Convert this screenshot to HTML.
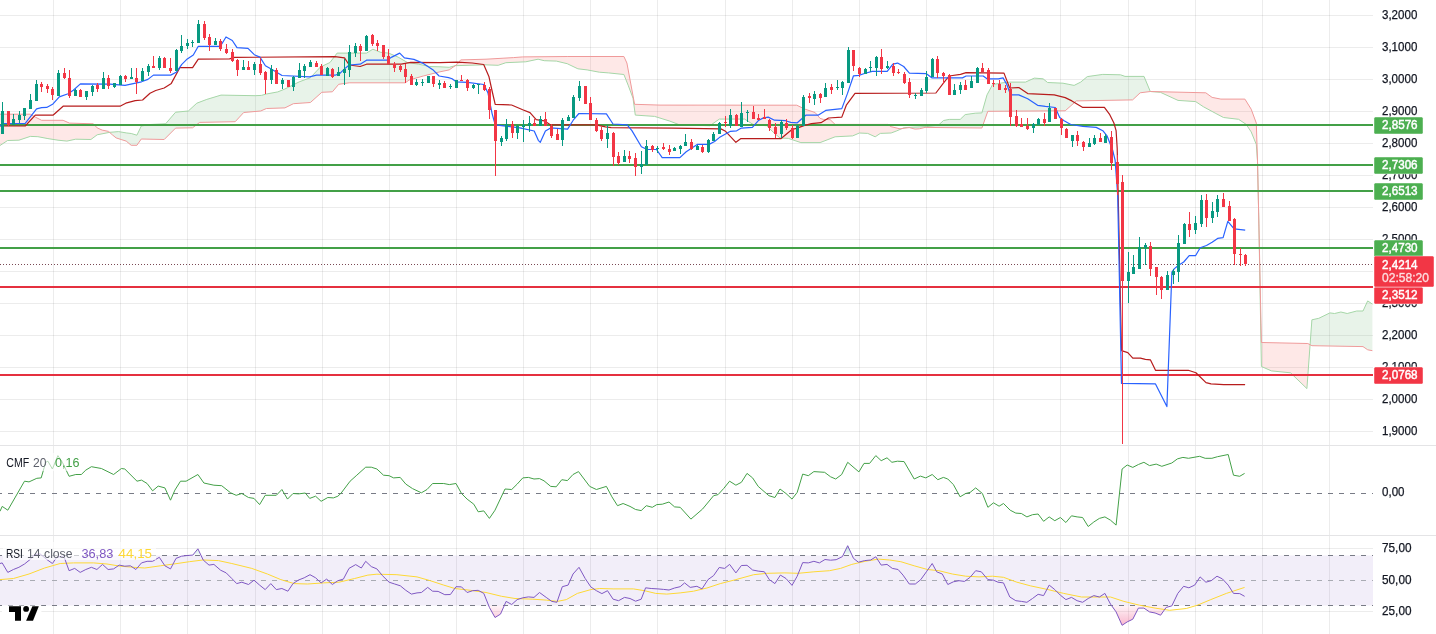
<!DOCTYPE html>
<html><head><meta charset="utf-8"><title>Chart</title>
<style>html,body{margin:0;padding:0;background:#fff;width:1436px;height:634px;overflow:hidden}</style>
</head><body>
<svg width="1436" height="634" viewBox="0 0 1436 634" style="display:block;will-change:transform"><path d="M0 15.5 H1373 M0 47.5 H1373 M0 79.5 H1373 M0 111.5 H1373 M0 143.5 H1373 M0 175.5 H1373 M0 207.5 H1373 M0 239.5 H1373 M0 271.5 H1373 M0 303.5 H1373 M0 335.5 H1373 M0 367.5 H1373 M0 399.5 H1373 M0 431.5 H1373 M0 548.5 H1373 M0 611.5 H1373" stroke="#000" stroke-opacity="0.075" stroke-width="1" fill="none"/>
<path d="M53.5 0 V634 M120.5 0 V634 M187.5 0 V634 M255.5 0 V634 M322.5 0 V634 M389.5 0 V634 M456.5 0 V634 M523.5 0 V634 M590.5 0 V634 M657.5 0 V634 M725.5 0 V634 M792.5 0 V634 M859.5 0 V634 M926.5 0 V634 M993.5 0 V634 M1060.5 0 V634 M1128.5 0 V634 M1195.5 0 V634 M1262.5 0 V634 M1329.5 0 V634" stroke="#000" stroke-opacity="0.075" stroke-width="1" fill="none"/>
<polygon points="0,145.5 0.5,145.17 1,144.84 1.5,144.51 2,144.18 2.5,143.86 3,143.53 3.5,143.2 4,142.87 4.5,142.54 5,142.21 5.5,141.88 6,141.55 6.5,141.22 7,140.89 7.5,140.57 7.6,140.5 8,140.49 8.5,140.48 9,140.46 9.5,140.45 10,140.44 10.5,140.42 11,140.41 11.5,140.4 12,140.38 12.5,140.37 13,140.36 13.5,140.34 14,140.33 14.5,140.32 15,140.3 15.5,140.29 16,140.28 16.5,140.26 17,140.25 17.5,140.24 18,140.22 18.5,140.21 18.9,140.2 19,140.17 19.5,140 20,139.83 20.5,139.67 21,139.5 21.5,139.33 22,139.17 22.5,139 23,138.83 23.5,138.67 24,138.5 24.5,138.33 25,138.17 25.5,138 26,137.83 26.5,137.67 27,137.5 27.5,137.33 28,137.17 28.5,137 29,136.83 29.5,136.67 30,136.5 30.3,136.4 30.5,136.41 31,136.43 31.5,136.45 32,136.47 32.5,136.49 33,136.51 33.5,136.53 34,136.55 34.5,136.57 35,136.59 35.3,136.6 35.5,136.61 36,136.62 36.5,136.64 37,136.66 37.5,136.68 37.9,136.7 38,136.72 38.5,136.81 39,136.91 39.5,137 40,137.1 40.5,137.19 41,137.29 41.5,137.38 41.6,137.4 42,137.48 42.5,137.57 43,137.67 43.5,137.76 44,137.86 44.5,137.95 45,138.05 45.5,138.14 46,138.24 46.5,138.33 47,138.43 47.5,138.52 47.9,138.6 48,138.62 48.5,138.7 49,138.77 49.5,138.85 50,138.93 50.5,139.01 51,139.09 51.5,139.17 52,139.25 52.5,139.33 53,139.41 53.5,139.49 54,139.57 54.5,139.65 55,139.72 55.5,139.8 56,139.88 56.5,139.96 57,140.04 57.5,140.12 58,140.2 58.5,140.25 59,140.3 59.5,140.35 60,140.4 60.5,140.45 61,140.5 61.5,140.55 62,140.6 62.5,140.66 63,140.71 63.1,140.72 63.5,140.76 64,140.81 64.5,140.86 65,140.91 65.5,140.96 66,141.01 66.5,141.06 66.9,141.1 67,141.08 67.5,140.97 68,140.86 68.5,140.75 69,140.65 69.4,140.56 69.5,140.54 70,140.43 70.5,140.32 71,140.21 71.5,140.11 72,140 72.5,139.89 73,139.78 73.5,139.67 74,139.57 74.5,139.46 75,139.35 75.5,139.24 75.7,139.2 76,139.21 76.5,139.22 77,139.23 77.5,139.24 78,139.25 78.5,139.26 79,139.27 79.5,139.27 80,139.28 80.5,139.29 81,139.3 81.5,139.31 82,139.32 82.5,139.33 83,139.34 83.5,139.35 84,139.36 84.5,139.37 85,139.38 85.5,139.39 86,139.4 86.5,139.41 87,139.42 87.5,139.43 88,139.44 88.5,139.45 89,139.46 89.5,139.47 90,139.48 90.5,139.49 90.9,139.5 91,139.43 91.5,139.05 92,138.68 92.5,138.31 93,137.93 93.4,137.63 93.5,137.56 94,137.19 94.5,136.81 95,136.44 95.5,136.07 96,135.7 96.5,135.32 97,134.95 97.2,134.8 97.5,134.74 98,134.64 98.5,134.54 99,134.44 99.5,134.34 100,134.24 100.5,134.15 101,134.05 101.5,133.95 102,133.85 102.2,133.81 102.5,133.75 103,133.65 103.5,133.55 104,133.45 104.5,133.35 105,133.25 105.5,133.15 106,133.05 106.5,132.95 107,132.86 107.5,132.76 108,132.66 108.5,132.56 109,132.46 109.5,132.36 109.56,132.35 109.56,132.35 109.5,132.29 109,131.85 108.5,131.4 108,131.3 107.5,131.19 107,131.09 106.5,130.99 106,130.88 105.5,130.78 105,130.68 104.5,130.57 104,130.47 103.5,130.37 103,130.27 102.5,130.16 102.2,130.1 102,130.01 101.5,129.79 101,129.57 100.5,129.35 100,129.13 99.5,128.91 99,128.69 98.5,128.47 98,128.25 97.5,128.03 97.2,127.9 97,127.68 96.5,127.14 96,126.61 95.5,126.07 95,125.53 94.5,124.99 94,124.45 93.5,123.91 93.4,123.8 93,123.79 92.5,123.77 92,123.76 91.5,123.74 91,123.73 90.9,123.73 90.5,123.72 90,123.7 89.5,123.69 89,123.67 88.5,123.66 88,123.64 87.5,123.63 87,123.61 86.5,123.6 86,123.58 85.5,123.57 85,123.55 84.5,123.54 84,123.53 83.5,123.51 83,123.5 82.5,123.48 82,123.47 81.5,123.45 81,123.44 80.5,123.42 80,123.41 79.5,123.39 79,123.38 78.5,123.37 78,123.35 77.5,123.34 77,123.32 76.5,123.31 76,123.29 75.7,123.28 75.5,123.28 75,123.26 74.5,123.25 74,123.23 73.5,123.22 73,123.2 72.5,123.19 72,123.18 71.5,123.16 71,123.15 70.5,123.13 70,123.12 69.5,123.1 69.4,123.1 69,122.92 68.5,122.7 68,122.48 67.5,122.26 67,122.03 66.9,121.99 66.5,121.81 66,121.59 65.5,121.37 65,121.14 64.5,120.92 64,120.7 63.5,120.48 63.1,120.3 63,120.3 62.5,120.3 62,120.3 61.5,120.3 61,120.3 60.5,120.3 60,120.3 59.5,120.3 59,120.3 58.5,120.3 58,120.3 57.5,120.3 57,120.3 56.5,120.3 56,120.3 55.5,120.3 55,120.3 54.5,120.3 54,120.3 53.5,120.3 53,120.3 52.5,120.3 52,120.3 51.5,120.3 51,120.3 50.5,120.3 50,120.3 49.5,120.3 49,120.3 48.5,120.3 48,120.3 47.9,120.3 47.5,120.3 47,120.3 46.5,120.3 46,120.3 45.5,120.3 45,120.3 44.5,120.3 44,120.3 43.5,120.3 43,120.3 42.5,120.3 42,120.3 41.6,120.3 41.5,120.25 41,120 40.5,119.74 40,119.49 39.5,119.23 39,118.98 38.5,118.73 38,118.47 37.9,118.42 37.5,118.22 37,117.96 36.5,117.71 36,117.46 35.5,117.2 35.3,117.1 35,116.93 34.5,116.64 34,116.35 33.5,116.06 33,115.77 32.5,115.48 32,115.19 31.5,114.9 31,114.61 30.5,114.32 30.3,114.2 30,114.2 29.5,114.2 29,114.2 28.5,114.2 28,114.2 27.5,114.2 27,114.2 26.5,114.2 26,114.2 25.5,114.2 25,114.2 24.5,114.2 24,114.2 23.5,114.2 23,114.2 22.5,114.2 22,114.2 21.5,114.2 21,114.2 20.5,114.2 20,114.2 19.5,114.2 19,114.2 18.9,114.2 18.5,114.2 18,114.2 17.5,114.2 17,114.2 16.5,114.2 16,114.2 15.5,114.2 15,114.2 14.5,114.2 14,114.2 13.5,114.2 13,114.2 12.5,114.2 12,114.2 11.5,114.2 11,114.2 10.5,114.2 10,114.2 9.5,114.2 9,114.2 8.5,114.2 8,114.2 7.6,114.2 7.5,114.2 7,114.2 6.5,114.2 6,114.2 5.5,114.2 5,114.2 4.5,114.2 4,114.2 3.5,114.2 3,114.2 2.5,114.2 2,114.2 1.5,114.2 1,114.2 0.5,114.2 0,114.2" fill="rgba(244,67,54,0.12)"/>
<polygon points="109.56,132.35 109.8,132.3 110,132.28 110.5,132.24 111,132.2 111.5,132.16 112,132.12 112.3,132.1 112.5,132.09 113,132.05 113.5,132.01 114,131.97 114.5,131.93 115,131.89 115.5,131.85 116,131.81 116.1,131.8 116.5,131.77 117,131.73 117.5,131.69 118,131.65 118.5,131.61 118.6,131.6 119,131.67 119.5,131.75 120,131.84 120.5,131.93 121,132.01 121.1,132.03 121.5,132.1 122,132.18 122.5,132.27 123,132.35 123.5,132.44 124,132.52 124.5,132.61 125,132.69 125.5,132.78 126,132.87 126.2,132.9 126.5,132.94 127,133 127.5,133.06 128,133.12 128.5,133.18 129,133.24 129.5,133.3 130,133.36 130.5,133.42 131,133.48 131.2,133.5 131.5,133.59 132,133.74 132.5,133.89 133,134.04 133.5,134.19 134,134.34 134.5,134.48 135,134.63 135.5,134.78 136,134.93 136.5,135.08 136.9,135.2 137,134.99 137.5,133.95 138,132.9 138.5,131.85 139,130.81 139.5,129.76 140,128.72 140.5,127.67 141,126.63 141.3,126 141.5,125.97 142,125.88 142.5,125.79 143,125.71 143.5,125.62 144,125.53 144.5,125.45 145,125.36 145.5,125.28 146,125.19 146.5,125.1 147,125.02 147.5,124.93 148,124.84 148.5,124.76 149,124.67 149.5,124.59 150,124.5 150.5,124.48 151,124.46 151.5,124.43 152,124.41 152.5,124.39 153,124.37 153.5,124.34 154,124.32 154.5,124.3 155,124.28 155.5,124.25 156,124.23 156.5,124.21 157,124.19 157.5,124.16 158,124.14 158.5,124.12 159,124.1 159.5,124.07 160,124.05 160.5,124.03 161,124.01 161.5,123.98 162,123.96 162.5,123.94 163,123.92 163.5,123.89 164,123.87 164.2,123.86 164.5,123.85 165,123.83 165.5,123.8 165.6,123.8 166,123.34 166.5,122.76 167,122.18 167.5,121.6 168,121.02 168.5,120.44 169,119.86 169.5,119.28 170,118.7 170.5,118.12 171,117.54 171.5,116.96 172,116.38 172.5,115.8 173,115.22 173.5,114.64 174,114.06 174.5,113.48 175,112.9 175.5,112.32 175.6,112.2 176,112.16 176.5,112.11 177,112.07 177.5,112.02 178,111.97 178.5,111.93 179,111.88 179.5,111.83 180,111.78 180.5,111.74 181,111.69 181.5,111.64 182,111.6 182.5,111.55 183,111.5 183.5,111.45 184,111.41 184.5,111.36 185,111.31 185.5,111.26 186,111.22 186.5,111.17 187,111.12 187.5,111.08 188,111.03 188.3,111 188.5,110.82 189,110.36 189.5,109.9 190,109.44 190.5,108.98 191,108.52 191.5,108.06 192,107.6 192.5,107.15 192.6,107.05 193,106.69 193.5,106.23 194,105.77 194.5,105.31 195,104.85 195.5,104.39 196,103.93 196.5,103.48 196.8,103.2 197,103.12 197.5,102.93 198,102.74 198.5,102.55 199,102.36 199.5,102.17 199.7,102.1 200,101.98 200.5,101.79 201,101.6 201.5,101.41 202,101.22 202.5,101.03 203,100.84 203.5,100.65 204,100.46 204.5,100.27 205,100.08 205.5,99.89 206,99.7 206.5,99.51 206.8,99.4 207,99.34 207.5,99.19 208,99.04 208.5,98.89 209,98.73 209.5,98.58 210,98.43 210.5,98.28 211,98.13 211.5,97.98 212,97.83 212.5,97.67 213,97.52 213.5,97.37 214,97.22 214.5,97.07 215,96.92 215.5,96.77 216,96.61 216.5,96.46 217,96.31 217.5,96.16 218,96.01 218.5,95.86 219,95.71 219.5,95.55 220,95.4 220.5,95.25 221,95.1 221.5,95.11 222,95.12 222.5,95.13 223,95.14 223.5,95.14 224,95.15 224.5,95.16 225,95.17 225.5,95.18 226,95.19 226.5,95.2 227,95.21 227.5,95.21 228,95.22 228.5,95.23 229,95.24 229.5,95.25 230,95.26 230.5,95.27 231,95.28 231.5,95.28 232,95.29 232.5,95.3 233,95.31 233.5,95.32 234,95.33 234.5,95.34 235,95.35 235.2,95.35 235.5,95.36 236,95.36 236.5,95.37 237,95.38 237.5,95.39 238,95.4 238.5,95.41 239,95.42 239.5,95.43 240,95.43 240.5,95.44 241,95.45 241.5,95.46 242,95.47 242.5,95.48 243,95.49 243.5,95.5 243.7,95.5 244,95.5 244.5,95.51 245,95.52 245.5,95.53 246,95.54 246.5,95.55 247,95.56 247.5,95.57 248,95.58 248.5,95.58 249,95.59 249.5,95.6 250,95.61 250.5,95.62 251,95.63 251.5,95.64 252,95.65 252.5,95.65 253,95.66 253.5,95.67 254,95.68 254.5,95.69 255,95.7 255.1,95.7 255.5,95.68 256,95.66 256.5,95.63 257,95.61 257.5,95.59 258,95.56 258.5,95.54 259,95.51 259.5,95.49 260,95.47 260.5,95.44 260.7,95.43 261,95.42 261.4,95.4 261.5,95.37 262,95.23 262.5,95.09 263,94.95 263.5,94.81 264,94.67 264.5,94.53 265,94.39 265.5,94.25 266,94.11 266.4,94 266.5,93.98 267,93.89 267.5,93.8 268,93.71 268.5,93.61 269,93.52 269.5,93.43 270,93.34 270.5,93.24 271,93.15 271.5,93.06 272,92.97 272.5,92.88 273,92.78 273.5,92.69 274,92.6 274.5,92.51 275,92.42 275.5,92.32 276,92.23 276.5,92.14 277,92.05 277.5,91.96 277.8,91.9 278,91.82 278.5,91.61 279,91.41 279.5,91.21 280,91 280.5,90.8 281,90.59 281.5,90.39 282,90.18 282.5,89.98 283,89.78 283.5,89.57 284,89.37 284.5,89.16 284.9,89 285,88.95 285.5,88.7 286,88.45 286.5,88.2 287,87.95 287.5,87.7 288,87.45 288.5,87.2 289,86.95 289.5,86.7 290,86.45 290.5,86.2 291,85.95 291.5,85.7 292,85.45 292.5,85.2 293,84.95 293.4,84.75 293.5,84.7 294,84.45 294.5,84.2 295,83.95 295.5,83.7 296,83.45 296.5,83.2 297,82.95 297.5,82.7 298,82.45 298.5,82.2 299,81.95 299.1,81.9 299.5,81.75 300,81.57 300.5,81.38 301,81.19 301.5,81.01 302,80.82 302.5,80.64 303,80.45 303.5,80.26 304,80.08 304.5,79.89 305,79.71 305.5,79.52 306,79.34 306.5,79.15 307,78.96 307.5,78.78 308,78.59 308.5,78.41 309,78.22 309.5,78.03 310,77.85 310.4,77.7 310.5,77.59 311,77.06 311.5,76.52 312,75.99 312.5,75.45 313,74.92 313.5,74.38 314,73.85 314.5,73.31 315,72.78 315.5,72.24 316,71.71 316.5,71.17 317,70.64 317.5,70.1 318,69.57 318.5,69.03 319,68.5 319.5,67.96 320,67.43 320.4,67 320.5,66.95 321,66.72 321.5,66.48 321.8,66.34 322,66.25 322.5,66.02 323,65.78 323.5,65.55 324,65.31 324.5,65.08 325,64.84 325.5,64.61 326,64.38 326.5,64.14 327,63.91 327.5,63.67 328,63.44 328.5,63.2 329,62.97 329.5,62.73 330,62.5 330.5,61.84 331,61.18 331.5,60.51 332,59.85 332.4,59.32 332.5,59.19 333,58.53 333.5,57.87 334,57.2 334.5,56.54 335,55.88 335.5,55.22 336,54.56 336.5,53.89 337,53.23 337.1,53.1 337.5,53.1 338,53.1 338.5,53.1 338.7,53.1 339,53.1 339.5,53.1 340,53.1 340.5,53.1 341,53.1 341.5,53.1 342,53.1 342.5,53.1 343,53.1 343.5,53.1 344,53.1 344.5,53.1 345,53.1 345.5,53.1 346,53.1 346.5,53.1 347,53.1 347.5,53.1 348,53.1 348.5,53.1 349,53.1 349.2,53.1 349.5,53.1 350,53.1 350.5,53.1 351,53.1 351.5,53.1 352,53.1 352.5,53.1 353,53.1 353.5,53.1 354,53.1 354.5,53.1 355,53.1 355.5,53.1 356,53.1 356.5,53.1 357,53.1 357.5,53.1 358,53.1 358.5,53.1 359,53.1 359.5,53.1 360,53.1 360.5,53.1 361,53.1 361.5,53.1 362,53.1 362.5,53.1 363,53.1 363.5,53.1 364,53.1 364.5,53.1 365,53.1 365.5,53.1 366,53.1 366.5,53.1 367,52.8 367.5,52.49 368,52.19 368.5,51.88 369,51.58 369.5,51.27 370,50.97 370.5,50.66 371,50.36 371.5,50.05 372,49.75 372.5,49.44 372.9,49.2 373,49.24 373.5,49.44 374,49.64 374.5,49.84 375,50.03 375.5,50.23 376,50.43 376.5,50.63 377,50.83 377.5,51.03 378,51.23 378.5,51.43 379,51.62 379.5,51.82 380,52.02 380.5,52.22 380.7,52.3 381,52.33 381.5,52.38 382,52.43 382.5,52.48 383,52.53 383.5,52.58 384,52.63 384.5,52.68 385,52.74 385.5,52.79 386,52.84 386.5,52.89 387,52.94 387.5,52.99 388,53.04 388.5,53.09 388.6,53.1 389,53.27 389.5,53.48 390,53.69 390.5,53.9 391,54.11 391.5,54.32 392,54.53 392.5,54.74 393,54.95 393.5,55.16 394,55.37 394.5,55.58 395,55.79 395.5,56.01 396,56.22 396.5,56.43 397,56.64 397.5,56.85 398,57.06 398.1,57.1 398.5,57.33 399,57.62 399.5,57.91 400,58.2 400.5,58.49 401,58.78 401.5,59.07 402,59.36 402.5,59.65 403,59.94 403.5,60.23 404,60.52 404.5,60.81 405,61.09 405.2,61.21 405.5,61.38 406,61.67 406.5,61.96 407,62.25 407.5,62.54 407.6,62.6 408,62.66 408.5,62.73 409,62.8 409.1,62.82 409.5,62.88 410,62.95 410.5,63.02 411,63.09 411.5,63.17 412,63.24 412.5,63.31 413,63.39 413.5,63.46 414,63.53 414.5,63.6 415,63.68 415.5,63.75 416,63.82 416.5,63.89 417,63.97 417.5,64.04 418,64.11 418.5,64.19 418.6,64.2 419,64.28 419.5,64.39 420,64.49 420.5,64.6 421,64.7 421.5,64.81 422,64.91 422.5,65.02 423,65.12 423.3,65.18 423.5,65.22 424,65.33 424.5,65.43 425,65.54 425.5,65.64 426,65.75 426.5,65.85 427,65.96 427.5,66.06 428,66.17 428.5,66.27 429,66.37 429.5,66.48 429.6,66.5 430,66.51 430.5,66.53 431,66.54 431.5,66.55 432,66.57 432.5,66.58 433,66.6 433.5,66.61 434,66.63 434.5,66.64 435,66.66 435.5,66.67 436,66.68 436.5,66.7 437,66.71 437.5,66.73 438,66.74 438.5,66.76 439,66.77 439.1,66.77 439.5,66.79 440,66.8 440.5,66.83 441,66.85 441.5,66.88 442,66.91 442.5,66.94 443,66.96 443.5,66.99 444,67.02 444.5,67.04 445,67.07 445.5,67.1 446,67.13 446.5,67.15 447,67.18 447.5,67.21 448,67.23 448.5,67.26 449,67.29 449.2,67.3 449.5,67.22 450,67.09 450.5,66.96 451,66.83 451.5,66.7 452,66.57 452.5,66.43 453,66.3 453.5,66.17 454,66.04 454.5,65.91 455,65.78 455.12,65.75 455.12,65.75 455,65.83 454.5,66.18 454,66.53 453.5,66.88 453,67.24 452.5,67.59 452,67.94 451.5,68.29 451,68.64 450.5,68.99 450,69.34 449.5,69.69 449.2,69.9 449,69.94 448.5,70.05 448,70.15 447.5,70.25 447,70.36 446.5,70.46 446,70.57 445.5,70.67 445,70.77 444.5,70.88 444,70.98 443.5,71.09 443,71.19 442.5,71.29 442,71.4 441.5,71.5 441,71.6 440.5,71.71 440,71.81 439.5,71.92 439.1,72 439,72.03 438.5,72.15 438,72.28 437.5,72.41 437,72.53 436.5,72.66 436,72.78 435.5,72.91 435,73.04 434.5,73.16 434,73.29 433.5,73.42 433,73.54 432.5,73.67 432,73.8 431.5,73.92 431,74.05 430.5,74.18 430,74.3 429.6,74.41 429.5,74.43 429,74.56 428.5,74.68 428,74.81 427.5,74.94 427,75.06 426.5,75.19 426,75.32 425.5,75.44 425,75.57 424.5,75.7 424,75.82 423.5,75.95 423.3,76 423,76.08 422.5,76.23 422,76.37 421.5,76.51 421,76.65 420.5,76.79 420,76.93 419.5,77.07 419,77.21 418.6,77.32 418.5,77.35 418,77.49 417.5,77.63 417,77.77 416.5,77.92 416,78.06 415.5,78.2 415,78.34 414.5,78.48 414,78.62 413.5,78.76 413,78.9 412.5,79.04 412,79.18 411.5,79.32 411,79.46 410.5,79.61 410,79.75 409.5,79.89 409.1,80 409,80.07 408.5,80.43 408,80.79 407.6,81.08 407.5,81.15 407,81.51 406.5,81.87 406,82.23 405.5,82.58 405.2,82.8 405,82.8 404.5,82.8 404,82.8 403.5,82.8 403,82.8 402.5,82.8 402,82.8 401.5,82.8 401,82.8 400.5,82.8 400,82.8 399.5,82.8 399,82.8 398.5,82.8 398.1,82.8 398,82.8 397.5,82.8 397,82.8 396.5,82.8 396,82.8 395.5,82.8 395,82.8 394.5,82.8 394,82.8 393.5,82.8 393,82.8 392.5,82.8 392,82.8 391.5,82.8 391,82.8 390.5,82.8 390,82.8 389.5,82.8 389,82.8 388.6,82.8 388.5,82.8 388,82.8 387.5,82.8 387,82.8 386.5,82.8 386,82.8 385.5,82.8 385,82.8 384.5,82.8 384,82.8 383.5,82.8 383,82.8 382.5,82.8 382,82.8 381.5,82.8 381,82.8 380.7,82.8 380.5,82.8 380,82.8 379.5,82.8 379,82.8 378.5,82.8 378,82.8 377.5,82.8 377,82.8 376.5,82.8 376,82.8 375.5,82.8 375,82.8 374.5,82.8 374,82.8 373.5,82.8 373,82.8 372.9,82.8 372.5,82.8 372,82.8 371.5,82.8 371,82.8 370.5,82.8 370,82.8 369.5,82.8 369,82.8 368.5,82.8 368,82.8 367.5,82.8 367,82.8 366.5,82.8 366,82.8 365.5,82.8 365,82.8 364.5,82.8 364,82.8 363.5,82.8 363,82.8 362.5,82.8 362,82.8 361.5,82.8 361,82.8 360.5,82.8 360,82.8 359.5,82.8 359,82.8 358.5,82.8 358,82.8 357.5,82.8 357,82.8 356.5,82.8 356,82.8 355.5,82.8 355,82.8 354.5,82.8 354,82.8 353.5,82.8 353,82.8 352.5,82.8 352,82.8 351.5,82.8 351,82.8 350.5,82.8 350,82.8 349.5,82.8 349.2,82.8 349,82.83 348.5,82.9 348,82.97 347.5,83.04 347,83.11 346.5,83.19 346,83.26 345.5,83.33 345,83.4 344.5,83.47 344,83.54 343.5,83.61 343,83.69 342.5,83.76 342,83.83 341.5,83.9 341,83.97 340.5,84.04 340,84.11 339.5,84.19 339,84.26 338.7,84.3 338.5,84.54 338,85.13 337.5,85.73 337.1,86.2 337,86.32 336.5,86.92 336,87.51 335.5,88.11 335,88.7 334.5,89.3 334,89.9 333.5,90.49 333,91.09 332.5,91.68 332.4,91.8 332,91.82 331.5,91.84 331,91.87 330.5,91.89 330,91.91 329.5,91.94 329,91.96 328.5,91.98 328,92.01 327.5,92.03 327,92.05 326.5,92.08 326,92.1 325.5,92.13 325,92.15 324.5,92.17 324,92.2 323.5,92.22 323,92.24 322.5,92.27 322,92.29 321.8,92.3 321.5,92.57 321,93.02 320.5,93.46 320.4,93.55 320,93.91 319.5,94.36 319,94.81 318.5,95.25 318,95.7 317.5,96.15 317,96.59 316.5,97.04 316,97.49 315.5,97.94 315,98.38 314.5,98.83 314,99.28 313.5,99.73 313,100.17 312.5,100.62 312,101.07 311.5,101.52 311,101.96 310.5,102.41 310.4,102.5 310,102.53 309.5,102.56 309,102.6 308.5,102.63 308,102.67 307.5,102.7 307,102.74 306.5,102.78 306,102.81 305.5,102.85 305,102.88 304.5,102.92 304,102.95 303.5,102.99 303,103.02 302.5,103.06 302,103.09 301.5,103.13 301,103.16 300.5,103.2 300,103.23 299.5,103.27 299.1,103.3 299,103.3 298.5,103.34 298,103.38 297.5,103.41 297,103.45 296.5,103.48 296,103.52 295.5,103.55 295,103.59 294.5,103.62 294,103.66 293.5,103.69 293.4,103.7 293,103.9 292.5,104.14 292,104.39 291.5,104.64 291,104.89 290.5,105.13 290,105.38 289.5,105.63 289,105.87 288.5,106.12 288,106.37 287.5,106.62 287,106.86 286.5,107.11 286,107.36 285.5,107.6 285,107.85 284.9,107.9 284.5,107.91 284,107.93 283.5,107.95 283,107.96 282.5,107.98 282,107.99 281.5,108.01 281,108.03 280.5,108.04 280,108.06 279.5,108.08 279,108.09 278.5,108.11 278,108.12 277.8,108.13 277.5,108.14 277,108.16 276.5,108.17 276,108.19 275.5,108.2 275,108.22 274.5,108.24 274,108.25 273.5,108.27 273,108.29 272.5,108.3 272,108.32 271.5,108.33 271,108.35 270.5,108.37 270,108.38 269.5,108.4 269,108.42 268.5,108.43 268,108.45 267.5,108.46 267,108.48 266.5,108.5 266.4,108.5 266,108.68 265.5,108.89 265,109.11 264.5,109.33 264,109.55 263.5,109.77 263,109.99 262.5,110.21 262,110.43 261.5,110.65 261.4,110.69 261,110.87 260.7,111 260.5,111.02 260,111.06 259.5,111.11 259,111.15 258.5,111.19 258,111.24 257.5,111.28 257,111.33 256.5,111.37 256,111.41 255.5,111.46 255.1,111.49 255,111.5 254.5,111.55 254,111.59 253.5,111.64 253,111.68 252.5,111.72 252,111.77 251.5,111.81 251,111.86 250.5,111.9 250,111.94 249.5,111.99 249,112.03 248.5,112.08 248,112.12 247.5,112.16 247,112.21 246.5,112.25 246,112.3 245.5,112.34 245,112.39 244.5,112.43 244,112.47 243.7,112.5 243.5,112.72 243,113.26 242.5,113.8 242,114.34 241.5,114.88 241,115.42 240.5,115.96 240,116.5 239.5,117.05 239,117.59 238.5,118.13 238,118.67 237.5,119.21 237,119.75 236.5,120.29 236,120.83 235.5,121.38 235.2,121.7 235,121.7 234.5,121.71 234,121.72 233.5,121.73 233,121.74 232.5,121.75 232,121.76 231.5,121.77 231,121.78 230.5,121.79 230,121.8 229.5,121.81 229,121.82 228.5,121.83 228,121.84 227.5,121.85 227,121.86 226.5,121.87 226,121.88 225.5,121.89 225,121.9 224.5,121.91 224,121.92 223.5,121.93 223,121.94 222.5,121.95 222,121.96 221.5,121.97 221,121.98 220.5,121.99 220,122 219.5,122.01 219,122.02 218.5,122.03 218,122.04 217.5,122.05 217,122.06 216.5,122.07 216,122.08 215.5,122.09 215,122.1 214.5,122.11 214,122.12 213.5,122.13 213,122.14 212.5,122.15 212,122.16 211.5,122.17 211,122.18 210.5,122.19 210,122.2 209.5,122.21 209,122.22 208.5,122.23 208,122.24 207.5,122.25 207,122.26 206.8,122.26 206.5,122.27 206,122.28 205.5,122.29 205,122.3 204.5,122.31 204,122.32 203.5,122.33 203,122.33 202.5,122.34 202,122.35 201.5,122.36 201,122.37 200.5,122.38 200,122.39 199.7,122.4 199.5,122.55 199,122.93 198.5,123.31 198,123.69 197.5,124.07 197,124.45 196.8,124.61 196.5,124.83 196,125.21 195.5,125.59 195,125.97 194.5,126.35 194,126.74 193.5,127.12 193,127.5 192.6,127.8 192.5,127.8 192,127.81 191.5,127.82 191,127.83 190.5,127.84 190,127.85 189.5,127.85 189,127.86 188.5,127.87 188.3,127.88 188,127.88 187.5,127.89 187,127.9 186.5,127.91 186,127.92 185.5,127.93 185,127.93 184.5,127.94 184,127.95 183.5,127.96 183,127.97 182.5,127.98 182,127.99 181.5,128 181,128 180.5,128.01 180,128.02 179.5,128.03 179,128.04 178.5,128.05 178,128.06 177.5,128.07 177,128.08 176.5,128.08 176,128.09 175.6,128.1 175.5,128.2 175,128.7 174.5,129.2 174,129.7 173.5,130.2 173,130.7 172.5,131.2 172,131.7 171.5,132.2 171,132.7 170.5,133.2 170,133.7 169.5,134.2 169,134.7 168.5,135.2 168,135.7 167.5,136.2 167,136.7 166.5,137.2 166,137.7 165.6,138.1 165.5,138.2 165,138.7 164.5,139.2 164.2,139.5 164,139.5 163.5,139.48 163,139.47 162.5,139.46 162,139.45 161.5,139.44 161,139.43 160.5,139.42 160,139.41 159.5,139.4 159,139.39 158.5,139.38 158,139.36 157.5,139.35 157,139.34 156.5,139.33 156,139.32 155.5,139.31 155,139.3 154.5,139.29 154,139.28 153.5,139.27 153,139.26 152.5,139.24 152,139.23 151.5,139.22 151,139.21 150.5,139.2 150,139.19 149.5,139.18 149,139.17 148.5,139.16 148,139.15 147.5,139.14 147,139.12 146.5,139.11 146,139.1 145.5,139.09 145,139.08 144.5,139.07 144,139.06 143.5,139.05 143,139.04 142.5,139.03 142,139.02 141.5,139 141.3,139 141,139.43 140.5,140.15 140,140.86 139.5,141.58 139,142.29 138.5,143.01 138,143.73 137.5,144.44 137,145.16 136.9,145.3 136.5,145.3 136,145.3 135.5,145.3 135,145.3 134.5,145.3 134,145.3 133.5,145.3 133,145.3 132.5,145.3 132,145.3 131.5,145.3 131.2,145.3 131,145.13 130.5,144.71 130,144.29 129.5,143.87 129,143.45 128.5,143.03 128,142.61 127.5,142.19 127,141.77 126.5,141.35 126.2,141.1 126,141.04 125.5,140.88 125,140.72 124.5,140.57 124,140.41 123.5,140.25 123,140.1 122.5,139.94 122,139.78 121.5,139.63 121.1,139.5 121,139.47 120.5,139.31 120,139.15 119.5,138.99 119,138.83 118.6,138.7 118.5,138.67 118,138.51 117.5,138.35 117,138.19 116.5,138.03 116.1,137.9 116,137.82 115.5,137.41 115,137 114.5,136.59 114,136.19 113.5,135.78 113,135.37 112.5,134.96 112.3,134.8 112,134.53 111.5,134.08 111,133.64 110.5,133.19 110,132.74 109.8,132.56 109.56,132.35" fill="rgba(67,160,71,0.12)"/>
<polygon points="455.12,65.75 455.3,65.7 455.5,65.69 456,65.68 456.5,65.66 456.9,65.65 457,65.65 457.5,65.63 458,65.62 458.5,65.6 459,65.59 459.5,65.57 460,65.55 460.5,65.54 460.7,65.53 461,65.52 461.5,65.51 462,65.49 462.5,65.48 463,65.46 463.5,65.45 464,65.43 464.5,65.42 465,65.4 465.5,65.38 466,65.37 466.5,65.35 467,65.34 467.5,65.32 468,65.31 468.5,65.29 469,65.28 469.5,65.26 470,65.25 470.5,65.23 471,65.21 471.5,65.2 472,65.18 472.5,65.17 473,65.15 473.5,65.14 474,65.12 474.5,65.11 475,65.09 475.5,65.08 476,65.06 476.5,65.04 477,65.03 477.5,65.01 478,65 478.5,64.98 479,64.97 479.5,64.95 480,64.94 480.5,64.92 481,64.91 481.5,64.89 482,64.87 482.5,64.86 483,64.84 483.5,64.83 484,64.81 484.4,64.8 484.5,64.8 485,64.82 485.5,64.84 486,64.86 486.5,64.88 487,64.89 487.5,64.91 488,64.93 488.5,64.95 489,64.97 489.5,64.98 490,65 490.5,65.02 491,65.04 491.5,65.06 492,65.08 492.5,65.09 493,65.11 493.5,65.13 494,65.15 494.5,65.17 495,65.18 495.5,65.2 496,65.22 496.5,65.24 497,65.26 497.5,65.27 498,65.29 498.2,65.3 498.5,65.2 499,65.03 499.5,64.86 500,64.69 500.5,64.52 501,64.35 501.5,64.19 502,64.02 502.5,63.85 503,63.68 503.5,63.51 504,63.34 504.5,63.17 505,63 505.5,62.84 505.9,62.7 506,62.7 506.5,62.67 507,62.65 507.5,62.63 508,62.61 508.5,62.58 509,62.56 509.5,62.54 510,62.51 510.5,62.49 511,62.47 511.5,62.45 512,62.42 512.5,62.4 513,62.38 513.5,62.36 514,62.33 514.5,62.31 515,62.29 515.5,62.27 516,62.24 516.5,62.22 517,62.2 517.5,62.18 518,62.15 518.5,62.13 519,62.11 519.5,62.08 520,62.06 520.5,62.04 521,62.02 521.5,61.99 522,61.97 522.5,61.95 522.7,61.94 523,61.93 523.5,61.9 524,61.88 524.5,61.86 525,61.84 525.5,61.81 525.8,61.8 526,61.76 526.5,61.65 527,61.55 527.5,61.44 528,61.33 528.5,61.23 529,61.12 529.5,61.02 530,60.91 530.5,60.81 531,60.7 531.5,60.6 532,60.49 532.5,60.38 533,60.28 533.5,60.17 534,60.07 534.5,59.96 535,59.86 535.5,59.75 536,59.64 536.5,59.54 537,59.43 537.5,59.33 538,59.22 538.1,59.2 538.5,59.3 539,59.42 539.5,59.54 540,59.67 540.5,59.79 541,59.91 541.5,60.04 542,60.16 542.5,60.28 543,60.4 543.5,60.53 544,60.65 544.2,60.7 544.5,60.71 545,60.73 545.5,60.74 546,60.76 546.5,60.78 547,60.79 547.5,60.81 548,60.82 548.5,60.84 549,60.86 549.5,60.87 550,60.89 550.5,60.91 551,60.92 551.5,60.94 552,60.96 552.5,60.97 553,60.99 553.5,61 554,61.02 554.5,61.04 555,61.05 555.5,61.07 556,61.09 556.4,61.1 556.5,61.12 557,61.24 557.5,61.36 558,61.49 558.5,61.61 559,61.73 559.5,61.85 560,61.97 560.5,62.09 561,62.21 561.5,62.33 562,62.45 562.5,62.57 563,62.69 563.5,62.81 564,62.93 564.5,63.05 565,63.17 565.5,63.29 566,63.41 566.5,63.53 567,63.65 567.2,63.7 567.5,63.84 568,64.08 568.5,64.32 569,64.56 569.5,64.8 570,65.03 570.5,65.27 571,65.51 571.5,65.75 572,65.99 572.5,66.23 573,66.46 573.5,66.7 574,66.94 574.5,67.18 575,67.42 575.5,67.66 576,67.89 576.5,68.13 577,68.37 577.5,68.61 577.9,68.8 578,68.81 578.5,68.87 579,68.93 579.5,68.99 580,69.05 580.5,69.11 581,69.17 581.5,69.23 582,69.29 582.5,69.35 583,69.41 583.5,69.47 584,69.53 584.5,69.59 585,69.65 585.5,69.71 586,69.77 586.5,69.83 587,69.89 587.1,69.9 587.5,69.98 588,70.07 588.5,70.16 589,70.26 589.5,70.35 590,70.45 590.5,70.54 591,70.64 591.5,70.73 592,70.82 592.5,70.92 593,71.01 593.5,71.11 594,71.2 594.5,71.3 595,71.39 595.5,71.48 596,71.58 596.5,71.67 597,71.77 597.5,71.86 598,71.95 598.5,72.05 599,72.14 599.3,72.2 599.5,72.22 600,72.25 600.5,72.29 601,72.33 601.5,72.37 602,72.41 602.5,72.44 603,72.48 603.5,72.52 604,72.56 604.5,72.6 605,72.63 605.5,72.67 606,72.71 606.5,72.75 607,72.79 607.5,72.82 608,72.86 608.5,72.9 609,72.95 609.5,73 610,73.06 610.5,73.11 611,73.16 611.5,73.21 612,73.26 612.5,73.32 613,73.37 613.5,73.42 614,73.47 614.5,73.52 615,73.58 615.5,73.63 616,73.68 616.5,73.73 617,73.78 617.5,73.84 618,73.89 618.5,73.94 619,73.99 619.5,74.04 620,74.09 620.5,74.15 621,74.2 621.5,74.25 622,74.3 622.5,74.35 623,74.41 623.5,74.46 623.9,74.5 624,74.75 624.5,76.01 625,77.28 625.5,78.54 626,79.8 626.5,81.06 626.9,82.07 627,82.32 627.5,83.59 628,84.85 628.1,85.1 628.5,86.17 629,87.51 629.5,88.84 630,90.18 630.5,91.52 631,92.85 631.5,94.19 632,95.53 632.5,96.86 633,98.2 633.5,101.87 634,105.55 634.5,109.22 634.6,109.96 635,112.9 635.3,115.1 635.5,115.11 636,115.15 636.5,115.18 637,115.21 637.5,115.25 638,115.28 638.5,115.32 639,115.35 639.5,115.38 640,115.42 640.5,115.45 641,115.48 641.5,115.52 642,115.55 642.5,115.58 643,115.62 643.5,115.65 644,115.69 644.5,115.72 645,115.75 645.5,115.79 646,115.82 646.5,115.85 647,115.89 647.5,115.92 648,115.96 648.5,115.99 649,116.02 649.5,116.06 650,116.09 650.5,116.12 651,116.16 651.5,116.19 652,116.22 652.5,116.26 653,116.29 653.5,116.33 654,116.36 654.5,116.39 654.6,116.4 655,116.52 655.5,116.68 656,116.83 656.5,116.99 657,117.14 657.5,117.3 658,117.45 658.5,117.61 659,117.76 659.5,117.92 660,118.07 660.5,118.22 661,118.38 661.5,118.53 662,118.69 662.5,118.84 663,119 663.5,119.15 664,119.31 664.5,119.46 665,119.62 665.5,119.77 666,119.93 666.5,120.08 667,120.23 667.5,120.39 668,120.54 668.5,120.7 669,120.85 669.5,121.01 669.8,121.1 670,121.18 670.5,121.37 671,121.56 671.5,121.75 672,121.94 672.5,122.13 673,122.32 673.5,122.51 674,122.71 674.5,122.9 675,123.09 675.5,123.28 676,123.47 676.5,123.66 677,123.85 677.5,124.04 678,124.24 678.5,124.43 679,124.62 679.5,124.81 680,125 680.5,125.01 681,125.02 681.5,125.04 682,125.05 682.5,125.06 683,125.07 683.5,125.08 684,125.09 684.5,125.11 685,125.12 685.5,125.13 686,125.14 686.5,125.15 687,125.16 687.5,125.18 688,125.19 688.5,125.2 689,125.21 689.5,125.22 690,125.23 690.5,125.25 691,125.26 691.5,125.27 692,125.28 692.5,125.29 693,125.3 693.5,125.32 694,125.33 694.5,125.34 695,125.35 695.5,125.36 696,125.37 696.5,125.39 697,125.4 697.5,125.41 698,125.42 698.5,125.43 699,125.44 699.5,125.46 700,125.47 700.5,125.48 701,125.49 701.5,125.5 702,125.52 702.5,125.53 703,125.54 703.5,125.55 704,125.56 704.5,125.57 705,125.59 705.5,125.6 706,125.61 706.5,125.62 707,125.63 707.5,125.64 708,125.66 708.5,125.67 709,125.68 709.5,125.69 709.9,125.7 710,125.63 710.5,125.28 711,124.93 711.5,124.58 712,124.23 712.5,123.87 713,123.52 713.5,123.17 714,122.82 714.5,122.47 715,122.12 715.5,121.77 716,121.42 716.5,121.07 717,120.71 717.5,120.36 718,120.01 718.5,119.66 719,119.31 719.3,119.1 719.5,119.1 720,119.1 720.5,119.1 721,119.1 721.5,119.1 722,119.1 722.5,119.1 723,119.1 723.5,119.1 724,119.1 724.5,119.1 725,119.1 725.5,119.1 726,119.1 726.5,119.1 727,119.1 727.5,119.1 728,119.1 728.5,119.1 729,119.1 729.5,119.1 730,119.1 730.5,119.1 731,119.1 731.5,119.1 732,119.1 732.5,119.1 733,119.1 733.5,119.1 734,119.1 734.5,119.1 735,119.1 735.5,119.1 736,119.1 736.5,119.1 737,119.1 737.5,119.1 738,119.1 738.5,119.1 739,119.1 739.5,119.1 740,119.1 740.5,119.1 741,119.1 741.5,119.1 742,119.1 742.5,119.1 743,119.1 743.5,119.1 744,119.1 744.5,119.1 744.6,119.1 745,119.35 745.5,119.66 746,119.98 746.5,120.29 747,120.61 747.5,120.92 748,121.23 748.5,121.55 749,121.86 749.5,122.18 750,122.49 750.5,122.8 751,123.12 751.5,123.43 752,123.74 752.5,124.06 753,124.37 753.5,124.69 754,125 754.5,125.03 755,125.06 755.5,125.08 756,125.11 756.5,125.14 757,125.17 757.5,125.19 758,125.22 758.5,125.25 759,125.28 759.5,125.31 760,125.33 760.5,125.36 761,125.39 761.5,125.42 762,125.44 762.5,125.47 763,125.5 763.5,125.53 764,125.56 764.5,125.58 765,125.61 765.5,125.64 766,125.67 766.5,125.69 766.6,125.7 767,126.09 767.5,126.59 768,127.08 768.5,127.57 769,128.06 769.5,128.55 770,129.05 770.5,129.54 771,130.03 771.5,130.52 772,131.02 772.5,131.51 773,132 773.5,132.43 774,132.86 774.5,133.29 775,133.71 775.5,134.14 776,134.57 776.5,135 777,135.43 777.5,135.86 778,136.29 778.5,136.71 779,137.14 779.5,137.57 780,138 780.5,138.02 781,138.05 781.5,138.07 782,138.1 782.5,138.12 783,138.14 783.5,138.17 784,138.19 784.5,138.21 785,138.24 785.5,138.26 786,138.29 786.5,138.31 787,138.33 787.5,138.36 788,138.38 788.4,138.4 788.5,138.43 789,138.6 789.5,138.77 790,138.94 790.5,139.11 791,139.27 791.5,139.44 792,139.61 792.5,139.78 793,139.95 793.5,140.11 794,140.28 794.5,140.45 795,140.62 795.5,140.79 796,140.95 796.5,141.12 796.7,141.19 797,141.29 797.5,141.46 798,141.63 798.5,141.79 799,141.96 799.5,142.13 800,142.3 800.5,142.47 800.9,142.6 801,142.6 801.5,142.6 802,142.6 802.5,142.6 803,142.6 803.5,142.6 804,142.6 804.5,142.6 805,142.6 805.1,142.6 805.5,142.6 806,142.6 806.5,142.6 807,142.6 807.5,142.6 808,142.6 808.5,142.6 809,142.6 809.5,142.6 810,142.6 810.5,142.6 811,142.6 811.5,142.6 812,142.6 812.5,142.6 813,142.6 813.5,142.6 814,142.6 814.5,142.6 815,142.6 815.1,142.6 815.5,142.6 816,142.6 816.5,142.6 817,142.6 817.5,142.6 818,142.6 818.5,142.6 819,142.6 819.5,142.6 820,142.6 820.1,142.6 820.5,142.45 821,142.25 821.5,142.06 822,141.87 822.5,141.67 823,141.48 823.4,141.32 823.5,141.29 824,141.09 824.5,140.9 825,140.71 825.5,140.51 826,140.32 826.5,140.13 827,139.93 827.5,139.74 828,139.55 828.5,139.35 829,139.16 829.5,138.97 830,138.77 830.1,138.73 830.5,138.58 831,138.39 831.5,138.19 832,138 832.5,137.81 833,137.61 833.5,137.42 834,137.23 834.5,137.03 835,136.84 835.1,136.8 835.5,136.78 836,136.75 836.5,136.73 837,136.7 837.5,136.68 838,136.65 838.5,136.63 839,136.6 839.5,136.58 840,136.55 840.5,136.52 841,136.5 841.5,136.47 842,136.45 842.5,136.42 843,136.4 843.5,136.37 844,136.34 844.5,136.32 845,136.29 845.5,136.27 846,136.24 846.5,136.22 847,136.19 847.5,136.17 848,136.14 848.5,136.11 849,136.09 849.5,136.06 850,136.04 850.5,136.01 851,135.99 851.5,135.96 852,135.94 852.5,135.91 852.7,135.9 853,135.77 853.5,135.55 854,135.34 854.5,135.12 855,134.9 855.5,134.69 856,134.47 856.5,134.26 857,134.04 857.5,133.82 858,133.61 858.5,133.39 859,133.17 859.4,133 859.5,133 860,133.03 860.5,133.05 861,133.08 861.5,133.1 862,133.13 862.5,133.15 863,133.17 863.5,133.2 864,133.22 864.5,133.25 865,133.27 865.5,133.29 866,133.32 866.5,133.34 867,133.37 867.5,133.39 867.7,133.4 868,133.54 868.5,133.76 869,133.99 869.5,134.22 870,134.44 870.5,134.67 871,134.9 871.5,135.12 872,135.35 872.5,135.58 873,135.8 873.5,136.03 874,136.26 874.5,136.48 875,136.71 875.2,136.8 875.5,136.6 876,136.27 876.5,135.93 877,135.6 877.5,135.27 878,134.93 878.5,134.6 879,134.27 879.5,133.93 880,133.6 880.3,133.4 880.5,133.39 881,133.37 881.5,133.36 882,133.34 882.5,133.32 883,133.3 883.5,133.28 884,133.26 884.5,133.24 885,133.23 885.5,133.21 886,133.19 886.5,133.17 887,133.15 887.5,133.13 887.8,133.12 888,133.11 888.5,133.1 889,133.08 889.5,133.06 890,133.04 890.5,133.02 891,133 891.1,133 891.5,132.85 892,132.66 892.5,132.48 893,132.29 893.5,132.1 894,131.91 894.5,131.73 895,131.54 895.5,131.35 896,131.16 896.5,130.98 896.7,130.9 897,130.77 897.5,130.55 898,130.33 898.5,130.11 899,129.89 899.5,129.67 900,129.45 900.5,129.23 901,129.01 901.5,128.79 902,128.57 902.09,128.53 902.09,128.53 902,128.54 901.5,128.6 901,128.67 900.5,128.73 900,128.8 899.5,128.68 899,128.56 898.5,128.45 898,128.33 897.5,128.21 897,128.09 896.7,128.02 896.5,127.97 896,127.86 895.5,127.74 895,127.62 894.5,127.5 894,127.38 893.5,127.27 893,127.15 892.5,127.03 892,126.91 891.5,126.79 891.1,126.7 891,126.63 890.5,126.28 890,125.93 889.5,125.58 889,125.24 888.5,124.89 888,124.54 887.8,124.4 887.5,124.4 887,124.4 886.5,124.4 886,124.4 885.5,124.4 885,124.4 884.5,124.4 884,124.4 883.5,124.4 883,124.4 882.5,124.4 882,124.4 881.5,124.4 881,124.4 880.5,124.4 880.3,124.4 880,124.4 879.5,124.4 879,124.4 878.5,124.4 878,124.4 877.5,124.4 877,124.4 876.5,124.4 876,124.4 875.5,124.4 875.2,124.4 875,124.4 874.5,124.4 874,124.4 873.5,124.4 873,124.4 872.5,124.4 872,124.4 871.5,124.4 871,124.4 870.5,124.4 870,124.4 869.5,124.4 869,124.4 868.5,124.4 868,124.4 867.7,124.4 867.5,124.4 867,124.4 866.5,124.4 866,124.4 865.5,124.4 865,124.4 864.5,124.4 864,124.4 863.5,124.4 863,124.4 862.5,124.4 862,124.4 861.5,124.4 861,124.4 860.5,124.4 860,124.4 859.5,124.4 859.4,124.4 859,124.4 858.5,124.4 858,124.4 857.5,124.4 857,124.4 856.5,124.4 856,124.4 855.5,124.4 855,124.4 854.5,124.4 854,124.4 853.5,124.4 853,124.4 852.7,124.4 852.5,124.4 852,124.4 851.5,124.4 851,124.4 850.5,124.4 850,124.4 849.5,124.4 849,124.4 848.5,124.4 848,124.4 847.5,124.4 847,124.4 846.5,124.4 846,124.4 845.5,124.4 845,124.4 844.5,124.4 844,124.4 843.5,124.4 843,124.4 842.5,124.4 842,124.4 841.5,124.4 841,124.4 840.5,124.4 840,124.4 839.5,124.4 839,124.4 838.5,124.4 838,124.4 837.5,124.4 837,124.4 836.5,124.4 836,124.4 835.5,124.4 835.1,124.4 835,124.3 834.5,123.82 834,123.34 833.5,122.86 833,122.38 832.5,121.9 832,121.42 831.5,120.94 831,120.46 830.5,119.98 830.1,119.6 830,119.6 829.5,119.58 829,119.57 828.5,119.55 828,119.54 827.5,119.52 827,119.51 826.5,119.49 826,119.48 825.5,119.46 825,119.45 824.5,119.43 824,119.42 823.5,119.4 823.4,119.4 823,119.28 822.5,119.13 822,118.98 821.5,118.82 821,118.67 820.5,118.52 820.1,118.4 820,118.28 819.5,117.69 819,117.1 818.5,116.51 818,115.92 817.5,115.33 817,114.74 816.5,114.15 816,113.56 815.5,112.97 815.1,112.5 815,112.47 814.5,112.3 814,112.14 813.5,111.97 813,111.81 812.5,111.64 812,111.48 811.5,111.31 811,111.15 810.5,110.98 810,110.82 809.5,110.65 809,110.49 808.5,110.32 808,110.16 807.5,109.99 807,109.83 806.5,109.66 806,109.5 805.5,109.33 805.1,109.2 805,109.15 804.5,108.91 804,108.68 803.5,108.44 803,108.2 802.5,107.96 802,107.72 801.5,107.49 801,107.25 800.9,107.2 800.5,107.01 800,106.77 799.5,106.53 799,106.3 798.5,106.06 798,105.82 797.5,105.58 797,105.34 796.7,105.2 796.5,105.2 796,105.2 795.5,105.2 795,105.2 794.5,105.2 794,105.2 793.5,105.2 793,105.2 792.5,105.2 792,105.2 791.5,105.2 791,105.2 790.5,105.2 790,105.2 789.5,105.19 789,105.19 788.5,105.19 788.4,105.19 788,105.19 787.5,105.19 787,105.19 786.5,105.19 786,105.19 785.5,105.19 785,105.19 784.5,105.19 784,105.19 783.5,105.19 783,105.19 782.5,105.19 782,105.19 781.5,105.19 781,105.19 780.5,105.19 780,105.19 779.5,105.19 779,105.19 778.5,105.19 778,105.19 777.5,105.19 777,105.19 776.5,105.19 776,105.18 775.5,105.18 775,105.18 774.5,105.18 774,105.18 773.5,105.18 773,105.18 772.5,105.18 772,105.18 771.5,105.18 771,105.18 770.5,105.18 770,105.18 769.5,105.18 769,105.18 768.5,105.18 768,105.18 767.5,105.18 767,105.18 766.6,105.18 766.5,105.18 766,105.18 765.5,105.18 765,105.18 764.5,105.18 764,105.18 763.5,105.18 763,105.18 762.5,105.17 762,105.17 761.5,105.17 761,105.17 760.5,105.17 760,105.17 759.5,105.17 759,105.17 758.5,105.17 758,105.17 757.5,105.17 757,105.17 756.5,105.17 756,105.17 755.5,105.17 755,105.17 754.5,105.17 754,105.17 753.5,105.17 753,105.17 752.5,105.17 752,105.17 751.5,105.17 751,105.17 750.5,105.17 750,105.17 749.5,105.17 749,105.17 748.5,105.16 748,105.16 747.5,105.16 747,105.16 746.5,105.16 746,105.16 745.5,105.16 745,105.16 744.6,105.16 744.5,105.16 744,105.16 743.5,105.16 743,105.16 742.5,105.16 742,105.16 741.5,105.16 741,105.16 740.5,105.16 740,105.16 739.5,105.16 739,105.16 738.5,105.16 738,105.16 737.5,105.16 737,105.16 736.5,105.16 736,105.16 735.5,105.16 735,105.15 734.5,105.15 734,105.15 733.5,105.15 733,105.15 732.5,105.15 732,105.15 731.5,105.15 731,105.15 730.5,105.15 730,105.15 729.5,105.15 729,105.15 728.5,105.15 728,105.15 727.5,105.15 727,105.15 726.5,105.15 726,105.15 725.5,105.15 725,105.15 724.5,105.15 724,105.15 723.5,105.15 723,105.15 722.5,105.15 722,105.15 721.5,105.14 721,105.14 720.5,105.14 720,105.14 719.5,105.14 719.3,105.14 719,105.14 718.5,105.14 718,105.14 717.5,105.14 717,105.14 716.5,105.14 716,105.14 715.5,105.14 715,105.14 714.5,105.14 714,105.14 713.5,105.14 713,105.14 712.5,105.14 712,105.14 711.5,105.14 711,105.14 710.5,105.14 710,105.14 709.9,105.14 709.5,105.14 709,105.14 708.5,105.14 708,105.14 707.5,105.13 707,105.13 706.5,105.13 706,105.13 705.5,105.13 705,105.13 704.5,105.13 704,105.13 703.5,105.13 703,105.13 702.5,105.13 702,105.13 701.5,105.13 701,105.13 700.5,105.13 700,105.13 699.5,105.13 699,105.13 698.5,105.13 698,105.13 697.5,105.13 697,105.13 696.5,105.13 696,105.13 695.5,105.13 695,105.13 694.5,105.13 694,105.12 693.5,105.12 693,105.12 692.5,105.12 692,105.12 691.5,105.12 691,105.12 690.5,105.12 690,105.12 689.5,105.12 689,105.12 688.5,105.12 688,105.12 687.5,105.12 687,105.12 686.5,105.12 686,105.12 685.5,105.12 685,105.12 684.5,105.12 684,105.12 683.5,105.12 683,105.12 682.5,105.12 682,105.12 681.5,105.12 681,105.12 680.5,105.11 680,105.11 679.5,105.11 679,105.11 678.5,105.11 678,105.11 677.5,105.11 677,105.11 676.5,105.11 676,105.11 675.5,105.11 675,105.11 674.5,105.11 674,105.11 673.5,105.11 673,105.11 672.5,105.11 672,105.11 671.5,105.11 671,105.11 670.5,105.11 670,105.11 669.8,105.11 669.5,105.11 669,105.11 668.5,105.11 668,105.11 667.5,105.11 667,105.11 666.5,105.1 666,105.1 665.5,105.1 665,105.1 664.5,105.1 664,105.1 663.5,105.1 663,105.1 662.5,105.1 662,105.1 661.5,105.1 661,105.1 660.5,105.1 660,105.1 659.5,105.08 659,105.07 658.5,105.05 658,105.04 657.5,105.02 657,105.01 656.5,104.99 656,104.97 655.5,104.96 655,104.94 654.6,104.93 654.5,104.93 654,104.91 653.5,104.9 653,104.88 652.5,104.86 652,104.85 651.5,104.83 651,104.82 650.5,104.8 650,104.79 649.5,104.77 649,104.75 648.5,104.74 648,104.72 647.5,104.71 647,104.69 646.5,104.67 646,104.66 645.5,104.64 645,104.63 644.5,104.61 644,104.6 643.5,104.58 643,104.56 642.5,104.55 642,104.53 641.5,104.52 641,104.5 640.5,104.49 640,104.47 639.5,104.45 639,104.44 638.5,104.42 638,104.41 637.5,104.39 637,104.38 636.5,104.36 636,104.34 635.5,104.33 635.3,104.32 635,104.31 634.6,104.3 634.5,103.76 634,101.08 633.5,98.4 633,95.72 632.5,93.04 632,90.35 631.5,87.67 631,84.99 630.5,82.31 630,79.63 629.5,76.95 629,74.26 628.5,71.58 628.1,69.44 628,68.9 627.5,66.22 627,63.54 626.9,63 626.5,62.13 626,61.05 625.5,59.97 625,58.88 624.5,57.8 624,56.72 623.9,56.5 623.5,56.5 623,56.5 622.5,56.5 622,56.5 621.5,56.5 621,56.5 620.5,56.5 620,56.5 619.5,56.5 619,56.5 618.5,56.5 618,56.5 617.5,56.5 617,56.5 616.5,56.5 616,56.5 615.5,56.5 615,56.5 614.5,56.5 614,56.5 613.5,56.5 613,56.5 612.5,56.5 612,56.5 611.5,56.5 611,56.5 610.5,56.5 610,56.5 609.5,56.5 609,56.5 608.5,56.5 608,56.5 607.5,56.5 607,56.5 606.5,56.5 606,56.5 605.5,56.5 605,56.5 604.5,56.5 604,56.5 603.5,56.5 603,56.5 602.5,56.5 602,56.5 601.5,56.5 601,56.5 600.5,56.5 600,56.5 599.5,56.5 599.3,56.5 599,56.5 598.5,56.5 598,56.5 597.5,56.5 597,56.5 596.5,56.5 596,56.5 595.5,56.5 595,56.5 594.5,56.5 594,56.5 593.5,56.5 593,56.5 592.5,56.5 592,56.5 591.5,56.5 591,56.5 590.5,56.5 590,56.5 589.5,56.5 589,56.5 588.5,56.5 588,56.5 587.5,56.5 587.1,56.5 587,56.5 586.5,56.5 586,56.5 585.5,56.5 585,56.5 584.5,56.5 584,56.5 583.5,56.5 583,56.5 582.5,56.5 582,56.5 581.5,56.5 581,56.5 580.5,56.5 580,56.5 579.5,56.5 579,56.5 578.5,56.5 578,56.5 577.9,56.5 577.5,56.5 577,56.5 576.5,56.5 576,56.5 575.5,56.5 575,56.5 574.5,56.5 574,56.5 573.5,56.5 573,56.5 572.5,56.5 572,56.5 571.5,56.5 571,56.5 570.5,56.5 570,56.5 569.5,56.5 569,56.5 568.5,56.5 568,56.5 567.5,56.5 567.2,56.5 567,56.5 566.5,56.51 566,56.51 565.5,56.52 565,56.52 564.5,56.52 564,56.53 563.5,56.53 563,56.54 562.5,56.54 562,56.55 561.5,56.55 561,56.56 560.5,56.56 560,56.56 559.5,56.57 559,56.57 558.5,56.58 558,56.58 557.5,56.59 557,56.59 556.5,56.6 556.4,56.6 556,56.6 555.5,56.61 555,56.61 554.5,56.61 554,56.62 553.5,56.62 553,56.63 552.5,56.63 552,56.64 551.5,56.64 551,56.65 550.5,56.65 550,56.65 549.5,56.66 549,56.66 548.5,56.67 548,56.67 547.5,56.68 547,56.68 546.5,56.69 546,56.69 545.5,56.7 545,56.7 544.5,56.7 544.2,56.71 544,56.71 543.5,56.71 543,56.72 542.5,56.72 542,56.73 541.5,56.73 541,56.74 540.5,56.74 540,56.74 539.5,56.75 539,56.75 538.5,56.76 538.1,56.76 538,56.76 537.5,56.77 537,56.77 536.5,56.78 536,56.78 535.5,56.78 535,56.79 534.5,56.79 534,56.8 533.5,56.8 533,56.81 532.5,56.81 532,56.82 531.5,56.82 531,56.83 530.5,56.83 530,56.83 529.5,56.84 529,56.84 528.5,56.85 528,56.85 527.5,56.86 527,56.86 526.5,56.87 526,56.87 525.8,56.87 525.5,56.87 525,56.88 524.5,56.88 524,56.89 523.5,56.89 523,56.9 522.7,56.9 522.5,56.92 522,56.95 521.5,56.99 521,57.03 520.5,57.07 520,57.11 519.5,57.14 519,57.18 518.5,57.22 518,57.26 517.5,57.3 517,57.33 516.5,57.37 516,57.41 515.5,57.45 515,57.49 514.5,57.52 514,57.56 513.5,57.6 513,57.63 512.5,57.66 512,57.69 511.5,57.72 511,57.75 510.5,57.77 510,57.8 509.5,57.83 509,57.86 508.5,57.89 508,57.92 507.5,57.95 507,57.98 506.5,58.01 506,58.04 505.9,58.04 505.5,58.07 505,58.09 504.5,58.12 504,58.15 503.5,58.18 503,58.21 502.5,58.24 502,58.27 501.5,58.3 501,58.33 500.5,58.36 500,58.39 499.5,58.41 499,58.44 498.5,58.47 498.2,58.49 498,58.5 497.5,58.53 497,58.56 496.5,58.59 496,58.62 495.5,58.65 495,58.68 494.5,58.71 494,58.73 493.5,58.76 493,58.79 492.5,58.82 492,58.85 491.5,58.88 491,58.91 490.5,58.94 490,58.97 489.5,59 489,59.03 488.5,59.05 488,59.08 487.5,59.11 487,59.14 486.5,59.17 486,59.2 485.5,59.21 485,59.23 484.5,59.24 484.4,59.24 484,59.26 483.5,59.27 483,59.28 482.5,59.3 482,59.31 481.5,59.32 481,59.34 480.5,59.35 480,59.37 479.5,59.38 479,59.39 478.5,59.41 478,59.42 477.5,59.44 477,59.45 476.5,59.46 476,59.48 475.5,59.49 475,59.5 474.5,59.52 474,59.53 473.5,59.55 473,59.56 472.5,59.57 472,59.59 471.5,59.6 471,59.62 470.5,59.63 470,59.64 469.5,59.66 469,59.67 468.5,59.68 468,59.7 467.5,59.71 467,59.73 466.5,59.74 466,59.75 465.5,59.77 465,59.78 464.5,59.79 464,59.81 463.5,59.82 463,59.84 462.5,59.85 462,59.86 461.5,59.88 461,59.89 460.7,59.9 460.5,60.14 460,60.75 459.5,61.35 459,61.96 458.5,62.56 458,63.17 457.5,63.77 457,64.38 456.9,64.5 456.5,64.78 456,65.13 455.5,65.48 455.3,65.62 455.12,65.75" fill="rgba(244,67,54,0.12)"/>
<polygon points="902.09,128.53 902.5,128.35 903,128.13 903.5,127.91 904,127.69 904.2,127.6 904.5,127.59 905,127.56 905.5,127.54 906,127.52 906.5,127.5 907,127.48 907.5,127.45 908,127.43 908.5,127.41 909,127.39 909.2,127.38 909.5,127.37 910,127.34 910.5,127.32 911,127.3 911.5,127.28 912,127.25 912.5,127.23 913,127.21 913.5,127.19 914,127.17 914.5,127.14 915,127.12 915.1,127.12 915.5,127.1 916,127.08 916.5,127.06 917,127.03 917.5,127.01 918,126.99 918.5,126.97 919,126.95 919.3,126.93 919.5,126.92 920,126.9 920.5,126.88 921,126.86 921.5,126.83 922,126.81 922.5,126.79 923,126.77 923.5,126.75 924,126.72 924.5,126.7 925,126.68 925.1,126.68 925.5,126.66 926,126.64 926.5,126.61 926.8,126.6 927,126.57 927.5,126.51 928,126.45 928.5,126.38 929,126.32 929.5,126.25 930,126.19 930.5,126.13 931,126.06 931.5,126 932,125.93 932.5,125.87 933,125.81 933.5,125.74 934,125.68 934.5,125.61 935,125.55 935.5,125.48 936,125.42 936.5,125.36 937,125.29 937.5,125.23 938,125.16 938.5,125.1 939,124.64 939.5,124.18 940,123.72 940.5,123.26 941,122.8 941.5,122.34 942,121.88 942.5,121.42 943,120.96 943.5,120.5 944,120.41 944.5,120.31 945,120.22 945.5,120.12 946,120.03 946.5,119.93 947,119.84 947.5,119.74 948,119.65 948.5,119.55 949,119.46 949.3,119.4 949.5,119.4 950,119.4 950.5,119.4 951,119.4 951.5,119.4 952,119.4 952.5,119.4 953,119.4 953.5,119.4 954,119.4 954.5,119.4 955,119.4 955.5,119.4 956,119.4 956.5,119.4 957,119.4 957.5,119.4 958,119.4 958.5,119.4 959,119.4 959.5,119.4 960,119.4 960.2,119.4 960.5,119.11 961,118.63 961.5,118.15 962,117.67 962.5,117.19 963,116.71 963.5,116.23 964,115.75 964.5,115.27 965,114.79 965.2,114.6 965.5,114.56 966,114.49 966.5,114.42 967,114.35 967.5,114.28 968,114.21 968.5,114.14 969,114.07 969.5,114 970,113.93 970.5,113.86 971,113.79 971.5,113.72 972,113.65 972.5,113.58 973,113.51 973.5,113.44 974,113.37 974.5,113.3 975,113.23 975.2,113.2 975.5,113.19 976,113.16 976.5,113.14 977,113.12 977.5,113.1 978,113.07 978.5,113.05 979,113.03 979.5,113.01 980,112.99 980.5,112.96 981,112.94 981.5,112.92 981.9,112.9 982,112.55 982.5,110.78 983,109.02 983.5,107.25 984,105.49 984.5,103.72 985,101.96 985.5,100.19 986,98.43 986.5,96.66 987,94.9 987.5,93.97 987.8,93.41 988,93.04 988.5,92.11 989,91.19 989.5,90.26 990,89.33 990.5,88.4 991,87.47 991.5,86.54 992,85.61 992.5,84.69 992.6,84.5 993,84.43 993.5,84.35 994,84.27 994.5,84.18 995,84.1 995.5,84.02 996,83.93 996.5,83.85 997,83.77 997.5,83.68 998,83.6 998.5,83.52 999,83.43 999.5,83.35 1000,83.27 1000.5,83.18 1001,83.1 1001.5,83.02 1002,82.93 1002.5,82.85 1003,82.77 1003.5,82.68 1004,82.6 1004.5,82.56 1005,82.52 1005.5,82.47 1006,82.43 1006.5,82.39 1007,82.35 1007.5,82.31 1008,82.27 1008.5,82.22 1009,82.18 1009.5,82.14 1010,82.1 1010.5,82.1 1011,82.1 1011.5,82.1 1012,82.1 1012.5,82.1 1013,82.1 1013.5,82.1 1014,82.1 1014.5,82.1 1015,82.1 1015.5,82.1 1016,82.1 1016.5,82.1 1017,82.1 1017.5,82.1 1018,82.1 1018.5,82.1 1019,82.1 1019.5,82.1 1020,82.1 1020.5,82.1 1021,82.1 1021.5,82.1 1022,82.1 1022.5,82.1 1023,82.1 1023.5,82.1 1024,82.1 1024.5,82.1 1025,82.1 1025.5,82.1 1026,81.87 1026.5,81.65 1027,81.42 1027.5,81.19 1028,80.96 1028.5,80.74 1029,80.51 1029.5,80.28 1030,80.05 1030.5,79.83 1031,79.6 1031.5,79.37 1032,79.15 1032.5,78.92 1033,78.69 1033.5,78.46 1034,78.24 1034.3,78.1 1034.5,78.12 1035,78.16 1035.5,78.2 1036,78.24 1036.5,78.28 1037,78.31 1037.5,78.35 1038,78.39 1038.5,78.43 1039,78.47 1039.5,78.51 1040,78.55 1040.5,78.59 1041,78.63 1041.5,78.67 1042,78.71 1042.5,78.75 1043,78.79 1043.1,78.8 1043.5,79.13 1044,79.54 1044.5,79.95 1045,80.36 1045.5,80.77 1046,81.18 1046.5,81.6 1047,82.01 1047.5,82.42 1047.6,82.5 1048,82.52 1048.5,82.54 1049,82.56 1049.5,82.59 1050,82.61 1050.5,82.63 1051,82.65 1051.5,82.68 1052,82.7 1052.5,82.72 1053,82.75 1053.5,82.77 1054,82.79 1054.5,82.81 1055,82.84 1055.5,82.86 1056,82.88 1056.5,82.9 1057,82.93 1057.5,82.95 1058,82.97 1058.5,83 1059,83.02 1059.5,83.04 1060,83.06 1060.5,83.09 1061,83.11 1061.5,83.13 1062,83.15 1062.5,83.18 1063,83.2 1063.5,83.3 1064,83.4 1064.5,83.5 1065,83.6 1065.2,83.64 1065.5,83.7 1066,83.79 1066.5,83.89 1067,83.99 1067.5,84.09 1068,84.19 1068.5,84.29 1069,84.39 1069.5,84.49 1070,84.59 1070.5,84.69 1071,84.79 1071.5,84.88 1072,84.98 1072.5,85.08 1073,85.18 1073.5,85.28 1074,85.38 1074.1,85.4 1074.5,85.2 1075,84.95 1075.5,84.7 1076,84.45 1076.3,84.3 1076.5,84.2 1077,83.95 1077.5,83.7 1078,83.45 1078.5,83.2 1079,82.95 1079.5,82.7 1080,82.45 1080.5,82.2 1080.7,82.1 1081,81.85 1081.5,81.43 1082,81.02 1082.5,80.6 1083,80.18 1083.5,79.77 1084,79.35 1084.5,78.93 1085,78.52 1085.5,78.1 1086,77.68 1086.5,77.27 1087,76.85 1087.3,76.6 1087.5,76.57 1088,76.5 1088.5,76.43 1089,76.36 1089.5,76.29 1090,76.22 1090.5,76.15 1091,76.07 1091.5,76 1092,75.93 1092.5,75.86 1093,75.79 1093.5,75.72 1094,75.65 1094.5,75.58 1095,75.51 1095.5,75.44 1096,75.37 1096.5,75.29 1097,75.22 1097.5,75.15 1098,75.08 1098.5,75.01 1099,74.94 1099.5,74.87 1100,74.8 1100.5,74.73 1101,74.66 1101.5,74.58 1102,74.51 1102.5,74.44 1102.8,74.4 1103,74.4 1103.5,74.42 1104,74.43 1104.5,74.44 1105,74.45 1105.5,74.46 1106,74.47 1106.5,74.48 1107,74.49 1107.5,74.51 1108,74.52 1108.5,74.53 1109,74.54 1109.5,74.55 1110,74.56 1110.5,74.57 1111,74.59 1111.5,74.6 1112,74.61 1112.5,74.62 1113,74.63 1113.5,74.64 1114,74.65 1114.5,74.66 1115,74.68 1115.5,74.69 1116,74.7 1116.5,74.71 1117,74.72 1117.5,74.73 1118,74.74 1118.5,74.75 1119,74.77 1119.5,74.78 1120,74.79 1120.5,74.8 1121,74.98 1121.5,75.16 1122,75.33 1122.5,75.51 1123,75.69 1123.5,75.87 1124,76.04 1124.5,76.22 1125,76.4 1125.5,76.4 1126,76.4 1126.5,76.4 1127,76.4 1127.5,76.4 1128,76.4 1128.5,76.4 1129,76.4 1129.5,76.4 1130,76.4 1130.5,76.4 1131,76.4 1131.5,76.4 1132,76.4 1132.5,76.4 1132.6,76.4 1133,76.4 1133.5,76.4 1134,76.4 1134.5,76.4 1135,76.4 1135.5,76.4 1136,76.4 1136.5,76.4 1137,76.4 1137.5,76.4 1138,76.4 1138.5,76.4 1139,76.4 1139.5,76.4 1140,76.4 1140.2,76.4 1140.5,76.4 1141,76.4 1141.5,76.4 1142,76.4 1142.5,76.4 1143,76.4 1143.5,76.4 1144,76.4 1144.5,77.6 1145,78.8 1145.5,80 1146,81.19 1146.5,82.39 1147,83.59 1147.5,84.79 1148,85.99 1148.5,87.19 1149,88.38 1149.5,89.58 1150,90.78 1150.3,91.5 1150.3,91.5 1150,91.54 1149.5,91.6 1149,91.67 1148.5,91.73 1148,91.8 1147.5,91.86 1147,91.92 1146.5,91.99 1146,92.05 1145.5,92.12 1145,92.18 1144.5,92.25 1144,92.31 1143.5,92.38 1143,92.44 1142.5,92.5 1142,92.57 1141.5,92.63 1141,92.7 1140.5,92.76 1140.2,92.8 1140,92.99 1139.5,93.45 1139,93.92 1138.5,94.39 1138,94.86 1137.5,95.32 1137,95.79 1136.5,96.26 1136,96.72 1135.5,97.19 1135,97.66 1134.5,98.12 1134,98.59 1133.5,99.06 1133,99.53 1132.6,99.9 1132.5,99.9 1132,99.91 1131.5,99.92 1131,99.93 1130.5,99.94 1130,99.95 1129.5,99.96 1129,99.96 1128.5,99.97 1128,99.98 1127.5,99.99 1127,100 1126.5,100.01 1126,100.02 1125.5,100.03 1125,100.03 1124.5,100.04 1124,100.05 1123.5,100.06 1123,100.07 1122.5,100.08 1122,100.09 1121.5,100.1 1121,100.11 1120.5,100.11 1120,100.12 1119.5,100.13 1119,100.14 1118.5,100.15 1118,100.16 1117.5,100.17 1117,100.18 1116.5,100.19 1116,100.19 1115.5,100.2 1115,100.21 1114.5,100.22 1114,100.23 1113.5,100.24 1113,100.25 1112.5,100.26 1112,100.27 1111.5,100.27 1111,100.28 1110.5,100.29 1110,100.3 1109.5,100.31 1109,100.32 1108.5,100.33 1108,100.34 1107.5,100.35 1107,100.35 1106.5,100.36 1106,100.37 1105.5,100.38 1105,100.39 1104.5,100.4 1104,100.41 1103.5,100.42 1103,100.43 1102.8,100.43 1102.5,100.43 1102,100.44 1101.5,100.45 1101,100.46 1100.5,100.47 1100,100.48 1099.5,100.49 1099,100.5 1098.5,100.51 1098,100.51 1097.5,100.52 1097,100.53 1096.5,100.54 1096,100.55 1095.5,100.56 1095,100.57 1094.5,100.58 1094,100.59 1093.5,100.59 1093,100.6 1092.5,100.61 1092,100.62 1091.5,100.63 1091,100.64 1090.5,100.65 1090,100.66 1089.5,100.67 1089,100.67 1088.5,100.68 1088,100.69 1087.5,100.7 1087.3,100.7 1087,100.71 1086.5,100.72 1086,100.73 1085.5,100.74 1085,100.75 1084.5,100.75 1084,100.76 1083.5,100.77 1083,100.78 1082.5,100.79 1082,100.8 1081.5,100.81 1081,100.82 1080.7,100.82 1080.5,100.83 1080,100.83 1079.5,100.84 1079,100.85 1078.5,100.86 1078,100.87 1077.5,100.88 1077,100.89 1076.5,100.9 1076.3,100.9 1076,101.17 1075.5,101.61 1075,102.06 1074.5,102.51 1074.1,102.86 1074,102.95 1073.5,103.4 1073,103.84 1072.5,104.29 1072,104.74 1071.5,105.18 1071,105.63 1070.5,106.07 1070,106.52 1069.5,106.96 1069,107.41 1068.5,107.86 1068,108.3 1067.5,108.75 1067,109.19 1066.5,109.64 1066,110.09 1065.5,110.53 1065.2,110.8 1065,110.8 1064.5,110.8 1064,110.81 1063.5,110.81 1063,110.81 1062.5,110.82 1062,110.82 1061.5,110.82 1061,110.83 1060.5,110.83 1060,110.83 1059.5,110.84 1059,110.84 1058.5,110.84 1058,110.85 1057.5,110.85 1057,110.85 1056.5,110.86 1056,110.86 1055.5,110.86 1055,110.87 1054.5,110.87 1054,110.87 1053.5,110.88 1053,110.88 1052.5,110.88 1052,110.89 1051.5,110.89 1051,110.89 1050.5,110.89 1050,110.9 1049.5,110.9 1049,110.9 1048.5,110.91 1048,110.91 1047.6,110.91 1047.5,110.91 1047,110.92 1046.5,110.92 1046,110.92 1045.5,110.93 1045,110.93 1044.5,110.93 1044,110.94 1043.5,110.94 1043.1,110.94 1043,110.94 1042.5,110.95 1042,110.95 1041.5,110.95 1041,110.96 1040.5,110.96 1040,110.96 1039.5,110.97 1039,110.97 1038.5,110.97 1038,110.98 1037.5,110.98 1037,110.98 1036.5,110.99 1036,110.99 1035.5,110.99 1035,111 1034.5,111 1034.3,111 1034,111 1033.5,111 1033,111.01 1032.5,111.01 1032,111.01 1031.5,111.02 1031,111.02 1030.5,111.02 1030,111.03 1029.5,111.03 1029,111.03 1028.5,111.04 1028,111.04 1027.5,111.04 1027,111.05 1026.5,111.05 1026,111.05 1025.5,111.06 1025,111.06 1024.5,111.06 1024,111.07 1023.5,111.07 1023,111.07 1022.5,111.08 1022,111.08 1021.5,111.08 1021,111.09 1020.5,111.09 1020,111.09 1019.5,111.1 1019,111.1 1018.5,111.1 1018,111.1 1017.5,111.11 1017,111.11 1016.5,111.11 1016,111.12 1015.5,111.12 1015,111.12 1014.5,111.13 1014,111.13 1013.5,111.13 1013,111.14 1012.5,111.14 1012,111.14 1011.5,111.15 1011,111.15 1010.5,111.15 1010,111.16 1009.5,111.16 1009,111.16 1008.5,111.17 1008,111.17 1007.5,111.17 1007,111.18 1006.5,111.18 1006,111.18 1005.5,111.19 1005,111.19 1004.5,111.19 1004,111.2 1003.5,111.2 1003,111.2 1002.5,111.21 1002,111.21 1001.5,111.21 1001,111.21 1000.5,111.22 1000,111.22 999.5,111.22 999,111.23 998.5,111.23 998,111.23 997.5,111.24 997,111.24 996.5,111.24 996,111.25 995.5,111.25 995,111.25 994.5,111.26 994,111.26 993.5,111.26 993,111.27 992.6,111.27 992.5,111.27 992,111.27 991.5,111.28 991,111.28 990.5,111.28 990,111.29 989.5,111.29 989,111.29 988.5,111.3 988,111.3 987.8,111.3 987.5,112.15 987,113.56 986.5,114.98 986,116.39 985.5,117.81 985,119.23 984.5,120.64 984,122.06 983.5,123.47 983,124.89 982.5,126.3 982,127.72 981.9,128 981.5,128 981,127.99 980.5,127.99 980,127.98 979.5,127.97 979,127.97 978.5,127.96 978,127.96 977.5,127.95 977,127.95 976.5,127.94 976,127.94 975.5,127.93 975.2,127.93 975,127.93 974.5,127.92 974,127.92 973.5,127.91 973,127.91 972.5,127.9 972,127.9 971.5,127.89 971,127.88 970.5,127.88 970,127.87 969.5,127.87 969,127.86 968.5,127.86 968,127.85 967.5,127.85 967,127.84 966.5,127.84 966,127.83 965.5,127.83 965.2,127.82 965,127.82 964.5,127.82 964,127.81 963.5,127.81 963,127.8 962.5,127.8 962,127.79 961.5,127.78 961,127.78 960.5,127.77 960.2,127.77 960,127.77 959.5,127.76 959,127.76 958.5,127.75 958,127.75 957.5,127.74 957,127.74 956.5,127.73 956,127.73 955.5,127.72 955,127.72 954.5,127.71 954,127.71 953.5,127.7 953,127.69 952.5,127.69 952,127.68 951.5,127.68 951,127.67 950.5,127.67 950,127.66 949.5,127.66 949.3,127.66 949,127.65 948.5,127.65 948,127.64 947.5,127.64 947,127.63 946.5,127.63 946,127.62 945.5,127.62 945,127.61 944.5,127.6 944,127.6 943.5,127.59 943,127.59 942.5,127.58 942,127.58 941.5,127.57 941,127.57 940.5,127.56 940,127.56 939.5,127.55 939,127.55 938.5,127.54 938,127.54 937.5,127.53 937,127.53 936.5,127.52 936,127.52 935.5,127.51 935,127.5 934.5,127.5 934,127.49 933.5,127.49 933,127.48 932.5,127.48 932,127.47 931.5,127.47 931,127.46 930.5,127.46 930,127.45 929.5,127.45 929,127.44 928.5,127.44 928,127.43 927.5,127.43 927,127.42 926.8,127.42 926.5,127.41 926,127.41 925.5,127.4 925.1,127.4 925,127.42 924.5,127.54 924,127.67 923.5,127.79 923,127.91 922.5,128.03 922,128.15 921.5,128.27 921,128.39 920.5,128.51 920,128.63 919.5,128.75 919.3,128.8 919,128.82 918.5,128.86 918,128.89 917.5,128.93 917,128.96 916.5,129 916,129.04 915.5,129.07 915.1,129.1 915,129.07 914.5,128.95 914,128.82 913.5,128.69 913,128.57 912.5,128.44 912,128.31 911.5,128.18 911,128.06 910.5,127.93 910,127.8 909.5,127.68 909.2,127.6 909,127.63 908.5,127.69 908,127.76 907.5,127.82 907,127.89 906.5,127.95 906,128.02 905.5,128.08 905,128.15 904.5,128.21 904.2,128.25 904,128.28 903.5,128.34 903,128.41 902.5,128.47 902.09,128.53" fill="rgba(67,160,71,0.12)"/>
<polygon points="1150.3,91.5 1150.5,91.52 1151,91.56 1151.5,91.6 1152,91.63 1152.5,91.67 1153,91.71 1153.5,91.75 1154,91.79 1154.5,91.83 1155,91.87 1155.5,91.91 1156,91.95 1156.5,91.99 1157,92.03 1157.5,92.07 1158,92.11 1158.5,92.15 1159,92.19 1159.5,92.23 1160,92.27 1160.4,92.3 1160.5,92.35 1161,92.58 1161.5,92.81 1162,93.04 1162.5,93.27 1163,93.5 1163.5,93.73 1164,93.96 1164.5,94.19 1165,94.42 1165.5,94.65 1166,94.88 1166.5,95.11 1167,95.34 1167.5,95.57 1168,95.8 1168.5,96.03 1169,96.26 1169.5,96.49 1170,96.72 1170.5,96.95 1171,97.18 1171.5,97.41 1172,97.64 1172.5,97.87 1173,98.1 1173.5,98.33 1174,98.56 1174.5,98.79 1175,99.02 1175.5,99.25 1176,99.48 1176.5,99.71 1177,99.94 1177.5,100.17 1178,100.4 1178.5,100.43 1179,100.47 1179.5,100.5 1180,100.54 1180.5,100.57 1181,100.6 1181.5,100.64 1182,100.67 1182.5,100.71 1183,100.74 1183.5,100.77 1184,100.81 1184.5,100.84 1185,100.87 1185.5,100.91 1186,100.94 1186.5,100.98 1187,101.01 1187.5,101.04 1188,101.08 1188.5,101.11 1189,101.15 1189.5,101.18 1190,101.21 1190.5,101.25 1191,101.28 1191.5,101.32 1192,101.35 1192.5,101.38 1193,101.42 1193.5,101.45 1194,101.48 1194.5,101.52 1195,101.55 1195.5,101.59 1195.7,101.6 1196,101.8 1196.5,102.14 1197,102.47 1197.5,102.81 1198,103.14 1198.5,103.48 1199,103.81 1199.5,104.15 1200,104.49 1200.5,104.82 1201,105.16 1201.5,105.49 1202,105.83 1202.5,106.16 1203,106.5 1203.3,106.7 1203.5,106.81 1204,107.08 1204.5,107.35 1205,107.62 1205.5,107.89 1205.8,108.05 1206,108.16 1206.5,108.43 1207,108.7 1207.5,108.97 1208,109.24 1208.5,109.51 1209,109.78 1209.5,110.05 1210,110.32 1210.5,110.59 1211,110.86 1211.5,111.13 1212,111.4 1212.1,111.45 1212.5,111.67 1213,111.93 1213.5,112.2 1214,112.47 1214.5,112.74 1215,113.01 1215.5,113.28 1215.9,113.5 1216,113.55 1216.5,113.82 1217,114.08 1217.5,114.34 1218,114.61 1218.5,114.87 1219,115.13 1219.5,115.39 1220,115.66 1220.5,115.92 1220.9,116.13 1221,116.18 1221.5,116.45 1222,116.71 1222.5,116.97 1223,117.24 1223.5,117.5 1224,117.56 1224.5,117.62 1225,117.68 1225.5,117.74 1226,117.8 1226.5,117.86 1227,117.92 1227.5,117.98 1228,118.04 1228.5,118.1 1229,118.16 1229.5,118.22 1230,118.27 1230.5,118.33 1231,118.39 1231.5,118.45 1232,118.51 1232.5,118.57 1233,118.63 1233.5,118.69 1234,118.75 1234.5,118.81 1235,118.87 1235.5,118.93 1236,118.99 1236.5,119.05 1237,119.11 1237.5,119.17 1238,119.23 1238.5,119.29 1238.6,119.3 1239,119.57 1239.5,119.9 1240,120.24 1240.5,120.58 1241,120.91 1241.5,121.25 1242,121.58 1242.5,121.92 1243,122.25 1243.5,122.59 1244,122.92 1244.5,123.26 1244.9,123.53 1245,123.59 1245.5,123.93 1246,124.27 1246.2,124.4 1246.5,124.85 1247,125.6 1247.5,126.35 1248,127.1 1248.5,127.85 1249,128.6 1249.5,129.35 1250,130.1 1250.5,130.85 1251,131.6 1251.2,131.9 1251.5,132.64 1252,133.88 1252.5,135.11 1253,136.35 1253.5,137.58 1254,138.82 1254.5,140.05 1255,141.29 1255.5,142.52 1256,143.76 1256.3,144.5 1256.5,147.25 1257,154.13 1257.5,161 1258,183.69 1258.5,206.38 1258.8,220 1259,231.27 1259.5,259.44 1260,287.62 1260.5,315.79 1261,343.96 1261.4,366.5 1261.5,366.54 1262,366.76 1262.5,366.98 1263,367.2 1263.5,367.41 1264,367.63 1264.5,367.85 1265,368.07 1265.5,368.29 1266,368.5 1266.5,368.72 1267,368.94 1267.5,369.16 1268,369.38 1268.5,369.59 1269,369.81 1269.5,370.03 1270,370.25 1270.5,370.46 1271,370.68 1271.5,370.9 1272,370.95 1272.5,371 1273,371.05 1273.5,371.1 1274,371.15 1274.5,371.2 1275,371.25 1275.5,371.3 1276,371.35 1276.5,371.4 1277,371.45 1277.5,371.5 1278,371.55 1278.5,371.6 1279,371.65 1279.5,371.7 1280,371.75 1280.5,371.8 1281,371.85 1281.5,371.9 1282,371.95 1282.5,372 1283,372.05 1283.5,372.1 1284,372.15 1284.5,372.2 1285,372.25 1285.5,372.3 1286,372.35 1286.5,372.4 1287,372.45 1287.5,372.5 1288,372.55 1288.5,372.6 1289,372.65 1289.5,372.7 1290,372.75 1290.5,372.8 1291,373.28 1291.5,373.76 1292,374.25 1292.5,374.73 1293,375.21 1293.5,375.69 1294,376.17 1294.5,376.65 1295,377.14 1295.5,377.62 1296,378.1 1296.5,378.58 1297,379.06 1297.5,379.54 1298,380.03 1298.5,380.51 1299,380.99 1299.5,381.47 1300,381.95 1300.5,382.43 1301,382.92 1301.5,383.4 1302,383.88 1302.5,384.36 1303,384.84 1303.5,385.32 1304,385.81 1304.5,386.29 1305,386.77 1305.5,387.25 1306,387.73 1306.5,388.21 1306.9,388.6 1307,387.22 1307.5,380.34 1307.8,376.22 1308,373.46 1308.5,366.58 1309,359.7 1309.5,352.82 1310,345.94 1310.09,344.73 1310.09,344.73 1310,344.68 1309.5,344.41 1309,344.14 1308.5,343.88 1308,343.61 1307.8,343.5 1307.5,343.49 1307,343.48 1306.9,343.48 1306.5,343.47 1306,343.46 1305.5,343.45 1305,343.44 1304.5,343.43 1304,343.42 1303.5,343.41 1303,343.4 1302.5,343.39 1302,343.38 1301.5,343.36 1301,343.35 1300.5,343.34 1300,343.33 1299.5,343.32 1299,343.31 1298.5,343.3 1298,343.29 1297.5,343.28 1297,343.27 1296.5,343.26 1296,343.25 1295.5,343.23 1295,343.22 1294.5,343.21 1294,343.2 1293.5,343.19 1293,343.18 1292.5,343.17 1292,343.16 1291.5,343.15 1291,343.14 1290.5,343.13 1290,343.12 1289.5,343.11 1289,343.09 1288.5,343.08 1288,343.07 1287.5,343.06 1287,343.05 1286.5,343.04 1286,343.03 1285.5,343.02 1285,343.01 1284.5,343 1284,342.99 1283.5,342.98 1283,342.97 1282.5,342.95 1282,342.94 1281.5,342.93 1281,342.92 1280.5,342.91 1280,342.9 1279.5,342.89 1279,342.88 1278.5,342.87 1278,342.86 1277.5,342.85 1277,342.84 1276.5,342.83 1276,342.81 1275.5,342.8 1275,342.79 1274.5,342.78 1274,342.77 1273.5,342.76 1273,342.75 1272.5,342.74 1272,342.73 1271.5,342.72 1271,342.71 1270.5,342.7 1270,342.69 1269.5,342.67 1269,342.66 1268.5,342.65 1268,342.64 1267.5,342.63 1267,342.62 1266.5,342.61 1266,342.6 1265.5,342.59 1265,342.58 1264.5,342.57 1264,342.56 1263.5,342.55 1263,342.53 1262.5,342.52 1262,342.51 1261.5,342.5 1261.4,342.5 1261,323.65 1260.5,300.1 1260,276.54 1259.5,252.98 1259,229.42 1258.8,220 1258.5,206.38 1258,183.69 1257.5,161 1257,145.21 1256.5,129.42 1256.3,123.1 1256,122.28 1255.5,120.92 1255,119.56 1254.5,118.19 1254,116.83 1253.5,115.47 1253,114.11 1252.5,112.74 1252,111.38 1251.5,110.02 1251.2,109.2 1251,108.88 1250.5,108.08 1250,107.28 1249.5,106.47 1249,105.67 1248.5,104.87 1248,104.07 1247.5,103.27 1247,102.47 1246.5,101.67 1246.2,101.18 1246,100.86 1245.5,100.06 1245,99.26 1244.9,99.1 1244.5,99.1 1244,99.1 1243.5,99.1 1243,99.1 1242.5,99.1 1242,99.1 1241.5,99.1 1241,99.1 1240.5,99.1 1240,99.1 1239.5,99.1 1239,99.1 1238.6,99.1 1238.5,99.1 1238,99.1 1237.5,99.1 1237,99.1 1236.5,99.1 1236,99.1 1235.5,99.1 1235,99.1 1234.5,99.1 1234,99.1 1233.5,99.1 1233,99.1 1232.5,99.1 1232,99.1 1231.5,99.1 1231,99.1 1230.5,99.1 1230,99.1 1229.5,99.1 1229,99.1 1228.5,99.1 1228,99.1 1227.5,99.1 1227,99.1 1226.5,99.1 1226,99.1 1225.5,99.1 1225,99.1 1224.5,99.1 1224,99.1 1223.5,99.1 1223,99.1 1222.5,99.1 1222,99.1 1221.5,99.1 1221,99.1 1220.9,99.1 1220.5,99.02 1220,98.93 1219.5,98.83 1219,98.73 1218.5,98.64 1218,98.54 1217.5,98.44 1217,98.35 1216.5,98.25 1216,98.15 1215.9,98.13 1215.5,98.06 1215,97.96 1214.5,97.86 1214,97.77 1213.5,97.67 1213,97.57 1212.5,97.48 1212.1,97.4 1212,97.33 1211.5,96.96 1211,96.6 1210.5,96.23 1210,95.87 1209.5,95.5 1209,95.14 1208.5,94.77 1208,94.41 1207.5,94.04 1207,93.68 1206.5,93.31 1206,92.95 1205.8,92.8 1205.5,92.79 1205,92.78 1204.5,92.77 1204,92.76 1203.5,92.75 1203.3,92.74 1203,92.73 1202.5,92.72 1202,92.71 1201.5,92.7 1201,92.69 1200.5,92.68 1200,92.66 1199.5,92.65 1199,92.64 1198.5,92.63 1198,92.62 1197.5,92.61 1197,92.59 1196.5,92.58 1196,92.57 1195.7,92.56 1195.5,92.56 1195,92.55 1194.5,92.54 1194,92.52 1193.5,92.51 1193,92.5 1192.5,92.49 1192,92.48 1191.5,92.47 1191,92.45 1190.5,92.44 1190,92.43 1189.5,92.42 1189,92.41 1188.5,92.39 1188,92.38 1187.5,92.37 1187,92.36 1186.5,92.35 1186,92.34 1185.5,92.32 1185,92.31 1184.5,92.3 1184,92.29 1183.5,92.28 1183,92.27 1182.5,92.25 1182,92.24 1181.5,92.23 1181,92.22 1180.5,92.21 1180,92.2 1179.5,92.18 1179,92.17 1178.5,92.16 1178,92.15 1177.5,92.14 1177,92.13 1176.5,92.11 1176,92.1 1175.5,92.09 1175,92.08 1174.5,92.07 1174,92.06 1173.5,92.04 1173,92.03 1172.5,92.02 1172,92.01 1171.5,92 1171,91.98 1170.5,91.97 1170,91.96 1169.5,91.95 1169,91.94 1168.5,91.93 1168,91.91 1167.5,91.9 1167,91.89 1166.5,91.88 1166,91.87 1165.5,91.86 1165,91.84 1164.5,91.83 1164,91.82 1163.5,91.81 1163,91.8 1162.5,91.79 1162,91.77 1161.5,91.76 1161,91.75 1160.5,91.74 1160.4,91.74 1160,91.73 1159.5,91.72 1159,91.7 1158.5,91.69 1158,91.68 1157.5,91.67 1157,91.66 1156.5,91.65 1156,91.63 1155.5,91.62 1155,91.61 1154.5,91.6 1154,91.59 1153.5,91.57 1153,91.56 1152.5,91.55 1152,91.54 1151.5,91.53 1151,91.52 1150.5,91.5 1150.3,91.5" fill="rgba(244,67,54,0.12)"/>
<polygon points="1310.09,344.73 1310.5,339.06 1311,332.18 1311.5,325.3 1311.9,319.8 1312,319.78 1312.5,319.67 1313,319.56 1313.5,319.45 1314,319.34 1314.5,319.23 1315,319.13 1315.5,319.02 1316,318.91 1316.5,318.8 1317,318.69 1317.5,318.58 1318,318.47 1318.5,318.37 1318.8,318.3 1319,318.2 1319.5,317.96 1320,317.72 1320.5,317.47 1321,317.23 1321.5,316.99 1322,316.74 1322.5,316.5 1323,316.26 1323.5,316.01 1324,315.77 1324.5,315.53 1325,315.28 1325.5,315.04 1326,314.8 1326.5,314.55 1327,314.31 1327.5,314.07 1328,313.82 1328.5,313.58 1329,313.34 1329.5,313.09 1329.9,312.9 1330,312.91 1330.5,312.98 1331,313.04 1331.5,313.1 1332,313.17 1332.5,313.23 1333,313.3 1333.5,313.36 1334,313.42 1334.5,313.49 1334.6,313.5 1335,313.4 1335.5,313.29 1336,313.17 1336.5,313.05 1337,312.93 1337.5,312.81 1338,312.69 1338.5,312.57 1339,312.45 1339.5,312.33 1340,312.21 1340.5,312.1 1340.9,312 1341,312.02 1341.5,312.14 1342,312.26 1342.5,312.38 1343,312.5 1343.5,312.62 1344,312.74 1344.5,312.86 1345,312.98 1345.5,313.1 1346,313.21 1346.5,313.33 1347,313.45 1347.2,313.5 1347.5,313.42 1348,313.29 1348.5,313.16 1349,313.03 1349.5,312.89 1350,312.76 1350.5,312.63 1351,312.5 1351.5,312.37 1352,312.24 1352.5,312.11 1353,311.97 1353.5,311.84 1354,311.71 1354.5,311.58 1355,311.45 1355.5,311.32 1356,311.18 1356.5,311.05 1356.7,311 1357,311 1357.5,311 1358,311 1358.5,311 1359,311 1359.5,311 1360,311 1360.5,311 1361,311 1361.5,311 1362,311 1362.5,311 1363,311 1363.5,309.93 1364,308.85 1364.5,307.78 1365,306.7 1365.5,305.63 1366,304.55 1366.5,303.48 1367,302.4 1367.5,301.33 1367.7,300.9 1368,301.1 1368.5,301.44 1369,301.79 1369.5,302.13 1370,302.47 1370.5,302.81 1371,303.15 1371.5,303.49 1372,303.83 1372.4,304.1 1372.4,350.7 1372,350.62 1371.5,350.53 1371,350.43 1370.5,350.34 1370,350.24 1369.5,350.14 1369,350.05 1368.5,349.95 1368,349.86 1367.7,349.8 1367.5,349.66 1367,349.32 1366.5,348.98 1366,348.64 1365.5,348.3 1365,347.96 1364.5,347.62 1364,347.28 1363.5,346.94 1363,346.6 1362.5,346.59 1362,346.58 1361.5,346.57 1361,346.56 1360.5,346.56 1360,346.55 1359.5,346.54 1359,346.53 1358.5,346.52 1358,346.51 1357.5,346.5 1357,346.49 1356.7,346.49 1356.5,346.49 1356,346.48 1355.5,346.47 1355,346.46 1354.5,346.45 1354,346.44 1353.5,346.43 1353,346.42 1352.5,346.42 1352,346.41 1351.5,346.4 1351,346.39 1350.5,346.38 1350,346.37 1349.5,346.36 1349,346.35 1348.5,346.34 1348,346.34 1347.5,346.33 1347.2,346.32 1347,346.32 1346.5,346.31 1346,346.3 1345.5,346.29 1345,346.28 1344.5,346.27 1344,346.27 1343.5,346.26 1343,346.25 1342.5,346.24 1342,346.23 1341.5,346.22 1341,346.21 1340.9,346.21 1340.5,346.2 1340,346.19 1339.5,346.19 1339,346.18 1338.5,346.17 1338,346.16 1337.5,346.15 1337,346.14 1336.5,346.13 1336,346.12 1335.5,346.12 1335,346.11 1334.6,346.1 1334.5,346.1 1334,346.09 1333.5,346.08 1333,346.07 1332.5,346.06 1332,346.05 1331.5,346.05 1331,346.04 1330.5,346.03 1330,346.02 1329.9,346.02 1329.5,346.01 1329,346 1328.5,345.99 1328,345.98 1327.5,345.97 1327,345.97 1326.5,345.96 1326,345.95 1325.5,345.94 1325,345.93 1324.5,345.92 1324,345.91 1323.5,345.9 1323,345.9 1322.5,345.89 1322,345.88 1321.5,345.87 1321,345.86 1320.5,345.85 1320,345.84 1319.5,345.83 1319,345.83 1318.8,345.82 1318.5,345.82 1318,345.81 1317.5,345.8 1317,345.79 1316.5,345.78 1316,345.77 1315.5,345.76 1315,345.75 1314.5,345.75 1314,345.74 1313.5,345.73 1313,345.72 1312.5,345.71 1312,345.7 1311.9,345.7 1311.5,345.49 1311,345.22 1310.5,344.95 1310.09,344.73" fill="rgba(67,160,71,0.12)"/>
<polyline points="0,145.5 7.6,140.5 18.9,140.2 30.3,136.4 37.9,136.7 47.9,138.6 58,140.2 66.9,141.1 75.7,139.2 90.9,139.5 97.2,134.8 109.8,132.3 118.6,131.6 126.2,132.9 131.2,133.5 136.9,135.2 141.3,126 150,124.5 165.6,123.8 175.6,112.2 188.3,111 196.8,103.2 206.8,99.4 221,95.1 255.1,95.7 261.4,95.4 266.4,94 277.8,91.9 284.9,89 299.1,81.9 310.4,77.7 320.4,67 330,62.5 337.1,53.1 366.5,53.1 372.9,49.2 380.7,52.3 388.6,53.1 398.1,57.1 407.6,62.6 418.6,64.2 429.6,66.5 440,66.8 449.2,67.3 455.3,65.7 484.4,64.8 498.2,65.3 505.9,62.7 525.8,61.8 538.1,59.2 544.2,60.7 556.4,61.1 567.2,63.7 577.9,68.8 587.1,69.9 599.3,72.2 608.5,72.9 623.9,74.5 628.1,85.1 633,98.2 635.3,115.1 654.6,116.4 669.8,121.1 680,125 709.9,125.7 719.3,119.1 744.6,119.1 754,125 766.6,125.7 773,132 780,138 788.4,138.4 800.9,142.6 820.1,142.6 835.1,136.8 852.7,135.9 859.4,133 867.7,133.4 875.2,136.8 880.3,133.4 891.1,133 896.7,130.9 904.2,127.6 926.8,126.6 938.5,125.1 943.5,120.5 949.3,119.4 960.2,119.4 965.2,114.6 975.2,113.2 981.9,112.9 987,94.9 992.6,84.5 1004,82.6 1010,82.1 1025.5,82.1 1034.3,78.1 1043.1,78.8 1047.6,82.5 1063,83.2 1074.1,85.4 1080.7,82.1 1087.3,76.6 1102.8,74.4 1120.5,74.8 1125,76.4 1144,76.4 1150.3,91.5 1160.4,92.3 1178,100.4 1195.7,101.6 1203.3,106.7 1215.9,113.5 1223.5,117.5 1238.6,119.3 1246.2,124.4 1251.2,131.9 1256.3,144.5 1257.5,161 1258.8,220 1261.4,366.5 1271.5,370.9 1290.5,372.8 1306.9,388.6 1311.9,319.8 1318.8,318.3 1329.9,312.9 1334.6,313.5 1340.9,312 1347.2,313.5 1356.7,311 1363,311 1367.7,300.9 1372.4,304.1" fill="none" stroke="#A5D6A7" stroke-width="1"/>
<polyline points="0,114.2 30.3,114.2 35.3,117.1 41.6,120.3 63.1,120.3 69.4,123.1 93.4,123.8 97.2,127.9 102.2,130.1 108.5,131.4 112.3,134.8 116.1,137.9 121.1,139.5 126.2,141.1 131.2,145.3 136.9,145.3 141.3,139 164.2,139.5 175.6,128.1 192.6,127.8 199.7,122.4 235.2,121.7 243.7,112.5 260.7,111 266.4,108.5 284.9,107.9 293.4,103.7 310.4,102.5 321.8,92.3 332.4,91.8 338.7,84.3 349.2,82.8 405.2,82.8 409.1,80 423.3,76 439.1,72 449.2,69.9 456.9,64.5 460.7,59.9 486,59.2 513.5,57.6 522.7,56.9 567.2,56.5 623.9,56.5 626.9,63 634.6,104.3 660,105.1 796.7,105.2 805.1,109.2 815.1,112.5 820.1,118.4 823.4,119.4 830.1,119.6 835.1,124.4 887.8,124.4 891.1,126.7 900,128.8 909.2,127.6 915.1,129.1 919.3,128.8 925.1,127.4 981.9,128 987.8,111.3 1065.2,110.8 1076.3,100.9 1132.6,99.9 1140.2,92.8 1150.3,91.5 1205.8,92.8 1212.1,97.4 1220.9,99.1 1244.9,99.1 1251.2,109.2 1256.3,123.1 1257.5,161 1258.8,220 1261.4,342.5 1307.8,343.5 1311.9,345.7 1363,346.6 1367.7,349.8 1372.4,350.7" fill="none" stroke="#EF9A9A" stroke-width="1"/>
<rect x="0" y="124" width="1373" height="2" fill="#43A047"/>
<rect x="0" y="164" width="1373" height="2" fill="#43A047"/>
<rect x="0" y="190" width="1373" height="2" fill="#43A047"/>
<rect x="0" y="247" width="1373" height="2" fill="#43A047"/>
<rect x="0" y="286" width="1373" height="2" fill="#E5303F"/>
<rect x="0" y="374" width="1373" height="2" fill="#E5303F"/>
<path d="M0 264.5 H1373" stroke="#7A4A55" stroke-width="1" stroke-dasharray="1 2"/>
<polyline points="0,126 25.2,126 35.3,115.2 53,115.2 63.1,106.2 120,106.2 125.8,103.2 135.2,100.7 142.6,100 150,93.3 155.7,90.5 164.2,88 171.3,83.4 179.8,67.7 192.6,67.7 198.3,59.2 229.5,58.8 234.6,57.4 335,56.6 344.5,57.9 349.2,65 360.2,66.5 366.5,64.2 401.2,64.2 410.7,62.3 440,62.7 456.9,62.2 472.2,63 483.7,64.5 489,76.8 492.1,91 495.2,104.3 511.6,105 522.7,109.7 530,112.6 536.2,119.7 544.4,120.8 550.6,124.9 596,124.9 605.4,126.8 611.1,127.7 672,128.1 720.9,128.9 725.6,131.3 735.9,142.3 740.6,138.7 780.8,138.7 792,129.5 796.4,128.4 803.9,125.6 811.5,123.7 821,122.7 828.5,118 841.8,117.1 846.5,104.8 855,93.4 935.9,93 943.4,83.2 949.1,76 960.5,74.4 966.1,72.6 1004,73.1 1009.7,88 1018.8,87.6 1027.7,93.6 1054.2,94.9 1065.2,97.6 1071.9,100.9 1082.4,107.3 1104.4,107.3 1109.4,114.1 1113.9,123 1116.1,130.7 1117.2,148.4 1121.5,350.6 1127.8,352.6 1132.8,358.1 1140.4,358.1 1145.4,359.4 1150.5,359.9 1155.5,370.3 1188.3,370.3 1195.9,372.8 1206,382.6 1211,383.9 1223.7,384.6 1245.1,384.6" fill="none" stroke="#B71C1C" stroke-width="1.2" stroke-linejoin="round"/>
<polyline points="0,126 3,123.5 25.2,123.4 36.6,108.9 41.6,107.7 46.7,107.4 53,103.9 59.3,96.9 68.1,93.8 73.3,90.2 80.4,83.9 110,84.1 125,85.4 141.5,81.8 147.9,79.4 153.4,75.1 170.7,75.1 176.2,72.3 181.8,64.4 187.3,58.9 193.3,55 198.3,46.3 220.4,46.3 226,37 232.3,40.5 237,47.6 248,48.4 254.3,54.7 259.9,57.1 265.4,65.7 272.5,69.7 282,75.5 309.5,76.8 316.6,75.2 335,75.2 339.7,73.6 344.5,68.9 349.2,65 360.2,64.2 366.5,60.2 387,60.2 391.8,57.1 399.7,53.1 404.4,57.9 413.9,59.4 423.3,63.4 432.8,69.7 439.1,76 448.6,77.6 452.1,78.7 456.2,81.8 467.5,82.4 483.9,84.5 488,93.1 492.1,113.6 495.2,124.9 519.8,127.9 534.2,131 538.3,140.3 540.3,142.3 545.4,131 550.6,127.9 567.6,129.1 573.2,120.2 578.9,113.5 606.4,113.9 613,124 627.2,124.9 631.9,130.6 641.4,146.7 647.1,149.5 656.5,149.5 662.2,157.6 679.9,157.6 686.2,151.8 697.2,144.4 709.1,144.4 714.6,141.5 719.3,137.6 730.4,131.3 736.7,130.8 741.4,128.1 752.4,127.3 758.8,120.2 763.5,117.9 768.2,117.1 774.5,120.2 785.6,120.7 790.7,122.4 797.3,122.8 805.8,115.2 818.1,115.2 825.7,110.4 841.8,108.6 847.5,93.4 853.5,75.8 858.8,75.4 864.5,73.5 872.1,71.3 887.2,71.3 892.9,64.1 897.6,63.1 903.7,66.5 909.4,73.1 926.4,73.7 932.1,77.9 962.4,77.9 966.1,76 983.2,76 987,78.8 998.3,78.8 1003.1,77.9 1006.8,84.5 1010.6,94.9 1018.8,94.9 1027.7,98.7 1037.6,105.3 1045.4,106.4 1055.3,107.5 1059.7,117.5 1064.1,120.8 1070.8,124.5 1082.9,126.3 1096.2,127.4 1102.8,130.7 1107.2,136.2 1112.6,150 1115.1,160.1 1117.7,195.4 1121.5,383.4 1155.5,383.9 1166.9,406.6 1171.9,272 1174.4,268.6 1178.6,265.2 1183.7,262 1189.2,255.7 1195.5,255.7 1200.2,247.8 1206.5,245.5 1212.1,242.3 1217.6,238.4 1223.1,237.6 1227.8,221.3 1234.1,228.9 1245.2,230.2" fill="none" stroke="#2962FF" stroke-width="1.2" stroke-linejoin="round"/>
<path d="M2 102h1v9h-1z M13 114h1v5h-1z M19 111h1v4h-1z M19 120h1v3h-1z M24 116h1v4h-1z M30 94h1v6h-1z M36 80h1v4h-1z M58 70h1v3h-1z M75 89h1v1h-1z M86 97h1v3h-1z M92 85h1v1h-1z M92 92h1v4h-1z M103 72h1v6h-1z M114 87h1v1h-1z M120 75h1v1h-1z M131 68h1v9h-1z M142 68h1v3h-1z M148 64h1v2h-1z M148 72h1v4h-1z M159 56h1v2h-1z M159 68h1v2h-1z M176 49h1v1h-1z M181 35h1v11h-1z M181 51h1v2h-1z M187 39h1v4h-1z M187 46h1v3h-1z M192 40h1v2h-1z M192 43h1v4h-1z M198 20h1v4h-1z M215 38h1v3h-1z M243 60h1v7h-1z M254 62h1v2h-1z M254 70h1v5h-1z M271 65h1v4h-1z M271 80h1v4h-1z M282 78h1v2h-1z M282 84h1v5h-1z M293 76h1v1h-1z M293 87h1v4h-1z M299 63h1v7h-1z M304 64h1v2h-1z M304 71h1v7h-1z M310 60h1v2h-1z M327 67h1v1h-1z M338 67h1v5h-1z M344 59h1v10h-1z M344 73h1v12h-1z M349 45h1v7h-1z M349 70h1v7h-1z M355 43h1v3h-1z M355 53h1v4h-1z M366 35h1v1h-1z M416 79h1v3h-1z M416 85h1v1h-1z M422 79h1v3h-1z M422 83h1v3h-1z M439 80h1v3h-1z M439 85h1v4h-1z M450 84h1v2h-1z M450 87h1v2h-1z M473 84h1v1h-1z M473 88h1v1h-1z M478 85h1v9h-1z M501 136h1v2h-1z M501 142h1v4h-1z M506 119h1v5h-1z M506 139h1v2h-1z M517 125h1v1h-1z M517 133h1v6h-1z M523 120h1v5h-1z M523 127h1v15h-1z M529 116h1v7h-1z M529 126h1v6h-1z M540 116h1v3h-1z M562 118h1v2h-1z M562 140h1v6h-1z M568 115h1v2h-1z M573 95h1v2h-1z M579 81h1v5h-1z M579 98h1v3h-1z M607 125h1v8h-1z M607 139h1v9h-1z M624 150h1v6h-1z M641 151h1v13h-1z M641 167h1v7h-1z M646 140h1v6h-1z M657 146h1v2h-1z M657 149h1v4h-1z M674 147h1v1h-1z M680 145h1v1h-1z M680 149h1v5h-1z M685 134h1v8h-1z M697 145h1v1h-1z M708 139h1v1h-1z M708 152h1v1h-1z M713 132h1v2h-1z M719 122h1v1h-1z M730 109h1v6h-1z M730 126h1v2h-1z M741 102h1v11h-1z M747 110h1v2h-1z M747 113h1v9h-1z M781 120h1v2h-1z M781 134h1v4h-1z M797 125h1v1h-1z M803 95h1v2h-1z M814 91h1v3h-1z M814 99h1v6h-1z M825 83h1v5h-1z M837 80h1v7h-1z M837 88h1v2h-1z M842 81h1v1h-1z M842 88h1v7h-1z M848 47h1v3h-1z M865 68h1v1h-1z M870 61h1v6h-1z M870 68h1v4h-1z M876 56h1v1h-1z M876 68h1v8h-1z M887 61h1v5h-1z M887 68h1v1h-1z M915 93h1v2h-1z M915 96h1v3h-1z M921 88h1v2h-1z M926 71h1v6h-1z M926 91h1v2h-1z M932 58h1v1h-1z M954 84h1v6h-1z M960 82h1v3h-1z M960 90h1v4h-1z M971 76h1v5h-1z M977 67h1v1h-1z M1033 123h1v1h-1z M1033 128h1v5h-1z M1038 118h1v1h-1z M1049 103h1v5h-1z M1072 141h1v6h-1z M1089 138h1v5h-1z M1094 135h1v3h-1z M1094 144h1v1h-1z M1105 134h1v2h-1z M1128 252h1v20h-1z M1128 281h1v22h-1z M1133 255h1v12h-1z M1139 237h1v10h-1z M1145 243h1v2h-1z M1145 248h1v17h-1z M1167 271h1v4h-1z M1173 269h1v2h-1z M1173 275h1v9h-1z M1178 235h1v8h-1z M1178 272h1v10h-1z M1184 223h1v1h-1z M1195 216h1v7h-1z M1195 230h1v4h-1z M1201 195h1v5h-1z M1201 224h1v3h-1z M1212 202h1v9h-1z M1212 218h1v5h-1z M1217 195h1v4h-1z M1217 212h1v5h-1z M1 111h3v23h-3z M12 119h3v6h-3z M18 115h3v5h-3z M23 108h3v8h-3z M29 100h3v9h-3z M35 84h3v17h-3z M57 73h3v23h-3z M74 90h3v6h-3z M85 91h3v6h-3z M91 86h3v6h-3z M102 78h3v11h-3z M113 83h3v4h-3z M119 76h3v9h-3z M130 77h3v2h-3z M141 71h3v10h-3z M147 66h3v6h-3z M158 58h3v10h-3z M175 50h3v21h-3z M180 46h3v5h-3z M186 43h3v3h-3z M191 42h3v1h-3z M197 24h3v19h-3z M214 41h3v4h-3z M242 67h3v3h-3z M253 64h3v6h-3z M270 69h3v11h-3z M281 80h3v4h-3z M292 77h3v10h-3z M298 70h3v8h-3z M303 66h3v5h-3z M309 62h3v5h-3z M326 68h3v8h-3z M337 72h3v4h-3z M343 69h3v4h-3z M348 52h3v18h-3z M354 46h3v7h-3z M365 36h3v15h-3z M415 82h3v3h-3z M421 82h3v1h-3z M427 76h3v7h-3z M438 83h3v2h-3z M449 86h3v1h-3z M455 80h3v8h-3z M472 85h3v3h-3z M477 84h3v1h-3z M500 138h3v4h-3z M505 124h3v15h-3z M516 126h3v7h-3z M522 125h3v2h-3z M528 123h3v3h-3z M539 119h3v7h-3z M561 120h3v20h-3z M567 117h3v4h-3z M572 97h3v21h-3z M578 86h3v12h-3z M606 133h3v6h-3z M623 156h3v6h-3z M640 164h3v3h-3z M645 146h3v19h-3z M656 148h3v1h-3z M673 148h3v3h-3z M679 146h3v3h-3z M684 142h3v4h-3z M696 146h3v4h-3z M707 140h3v12h-3z M712 134h3v7h-3z M718 123h3v11h-3z M729 115h3v11h-3z M740 113h3v14h-3z M746 112h3v1h-3z M780 122h3v12h-3z M796 126h3v12h-3z M802 97h3v29h-3z M813 94h3v5h-3z M824 88h3v9h-3z M836 87h3v1h-3z M841 82h3v6h-3z M847 50h3v33h-3z M864 69h3v5h-3z M869 67h3v1h-3z M875 57h3v11h-3z M886 66h3v2h-3z M914 95h3v1h-3z M920 90h3v6h-3z M925 77h3v14h-3z M931 59h3v18h-3z M953 90h3v5h-3z M959 85h3v5h-3z M970 81h3v7h-3z M976 68h3v15h-3z M1032 124h3v4h-3z M1037 119h3v6h-3z M1048 108h3v14h-3z M1071 135h3v6h-3z M1088 143h3v4h-3z M1093 138h3v6h-3z M1104 136h3v7h-3z M1127 272h3v9h-3z M1132 267h3v7h-3z M1138 247h3v22h-3z M1144 245h3v3h-3z M1166 275h3v15h-3z M1172 271h3v4h-3z M1177 243h3v29h-3z M1183 224h3v20h-3z M1194 223h3v7h-3z M1200 200h3v24h-3z M1211 211h3v7h-3z M1216 199h3v13h-3z" fill="#089981"/>
<path d="M8 125h1v1h-1z M41 82h1v2h-1z M41 87h1v5h-1z M47 84h1v2h-1z M47 89h1v4h-1z M52 87h1v2h-1z M52 95h1v5h-1z M64 68h1v5h-1z M64 78h1v1h-1z M69 70h1v8h-1z M69 96h1v2h-1z M80 89h1v1h-1z M97 83h1v2h-1z M97 89h1v3h-1z M108 75h1v3h-1z M108 86h1v3h-1z M125 75h1v1h-1z M125 79h1v3h-1z M136 68h1v10h-1z M136 82h1v12h-1z M153 56h1v10h-1z M164 57h1v1h-1z M170 58h1v10h-1z M170 71h1v2h-1z M204 21h1v3h-1z M204 38h1v2h-1z M209 34h1v3h-1z M209 45h1v6h-1z M220 39h1v2h-1z M220 49h1v2h-1z M226 44h1v5h-1z M226 53h1v1h-1z M232 49h1v3h-1z M232 61h1v1h-1z M237 59h1v1h-1z M237 70h1v6h-1z M248 61h1v6h-1z M260 58h1v6h-1z M260 73h1v2h-1z M265 71h1v1h-1z M265 80h1v14h-1z M276 68h1v2h-1z M316 61h1v2h-1z M321 64h1v2h-1z M332 68h1v1h-1z M332 77h1v1h-1z M360 44h1v2h-1z M360 51h1v10h-1z M372 34h1v1h-1z M372 44h1v2h-1z M377 40h1v3h-1z M377 46h1v5h-1z M383 57h1v2h-1z M388 49h1v7h-1z M394 62h1v2h-1z M394 68h1v4h-1z M400 65h1v1h-1z M400 70h1v2h-1z M405 64h1v5h-1z M405 77h1v6h-1z M411 74h1v2h-1z M433 84h1v3h-1z M444 81h1v2h-1z M461 75h1v5h-1z M467 79h1v1h-1z M467 88h1v3h-1z M484 82h1v3h-1z M484 90h1v1h-1z M489 87h1v2h-1z M489 110h1v9h-1z M495 141h1v35h-1z M512 121h1v3h-1z M512 133h1v5h-1z M534 119h1v4h-1z M545 112h1v7h-1z M551 124h1v2h-1z M551 136h1v2h-1z M557 129h1v5h-1z M590 97h1v6h-1z M596 118h1v2h-1z M596 131h1v1h-1z M601 127h1v3h-1z M601 139h1v2h-1z M613 132h1v1h-1z M613 157h1v9h-1z M618 152h1v4h-1z M618 163h1v2h-1z M629 151h1v5h-1z M629 159h1v4h-1z M635 153h1v5h-1z M635 167h1v9h-1z M652 145h1v1h-1z M652 150h1v2h-1z M663 143h1v4h-1z M663 149h1v1h-1z M669 145h1v4h-1z M669 152h1v3h-1z M691 139h1v3h-1z M691 149h1v1h-1z M702 145h1v2h-1z M702 152h1v1h-1z M725 116h1v6h-1z M725 123h1v4h-1z M736 114h1v1h-1z M753 106h1v6h-1z M758 114h1v4h-1z M764 109h1v8h-1z M769 119h1v1h-1z M769 128h1v3h-1z M775 123h1v4h-1z M775 134h1v4h-1z M786 119h1v4h-1z M786 128h1v2h-1z M792 125h1v3h-1z M792 138h1v1h-1z M809 93h1v3h-1z M809 98h1v5h-1z M820 93h1v1h-1z M820 98h1v5h-1z M831 84h1v3h-1z M831 90h1v4h-1z M853 66h1v5h-1z M859 67h1v1h-1z M859 74h1v3h-1z M881 49h1v8h-1z M881 69h1v5h-1z M893 63h1v3h-1z M893 73h1v3h-1z M898 69h1v3h-1z M898 73h1v1h-1z M904 72h1v2h-1z M904 83h1v1h-1z M909 78h1v4h-1z M909 95h1v3h-1z M937 56h1v3h-1z M937 73h1v5h-1z M943 72h1v1h-1z M943 76h1v8h-1z M949 74h1v1h-1z M965 80h1v5h-1z M982 63h1v5h-1z M988 68h1v2h-1z M993 80h1v3h-1z M993 84h1v3h-1z M999 80h1v4h-1z M1005 85h1v3h-1z M1005 90h1v3h-1z M1010 83h1v6h-1z M1010 117h1v9h-1z M1016 110h1v6h-1z M1016 126h1v1h-1z M1021 118h1v6h-1z M1027 118h1v8h-1z M1027 129h1v1h-1z M1044 113h1v6h-1z M1044 123h1v3h-1z M1061 118h1v1h-1z M1061 128h1v7h-1z M1066 128h1v1h-1z M1077 131h1v4h-1z M1077 141h1v5h-1z M1083 141h1v1h-1z M1083 147h1v4h-1z M1100 133h1v5h-1z M1111 131h1v6h-1z M1111 163h1v7h-1z M1117 155h1v7h-1z M1117 184h1v11h-1z M1122 175h1v7h-1z M1122 281h1v163h-1z M1150 242h1v4h-1z M1150 269h1v7h-1z M1156 277h1v18h-1z M1161 276h1v1h-1z M1161 290h1v9h-1z M1189 212h1v12h-1z M1189 230h1v7h-1z M1206 194h1v6h-1z M1206 218h1v9h-1z M1223 193h1v6h-1z M1229 201h1v5h-1z M1234 218h1v1h-1z M1234 254h1v11h-1z M1240 248h1v6h-1z M1240 255h1v11h-1z M1245 254h1v1h-1z M1245 264h1v2h-1z M7 111h3v14h-3z M40 84h3v3h-3z M46 86h3v3h-3z M51 89h3v6h-3z M63 73h3v5h-3z M68 78h3v18h-3z M79 90h3v7h-3z M96 85h3v4h-3z M107 78h3v8h-3z M124 76h3v3h-3z M135 78h3v4h-3z M152 66h3v2h-3z M163 58h3v10h-3z M169 68h3v3h-3z M203 24h3v14h-3z M208 37h3v8h-3z M219 41h3v8h-3z M225 49h3v4h-3z M231 52h3v9h-3z M236 60h3v10h-3z M247 67h3v3h-3z M259 64h3v9h-3z M264 72h3v8h-3z M275 70h3v14h-3z M287 80h3v7h-3z M315 63h3v4h-3z M320 66h3v9h-3z M331 69h3v8h-3z M359 46h3v5h-3z M371 35h3v9h-3z M376 43h3v3h-3z M382 45h3v12h-3z M387 56h3v8h-3z M393 64h3v4h-3z M399 66h3v4h-3z M404 69h3v8h-3z M410 76h3v9h-3z M432 76h3v8h-3z M443 83h3v5h-3z M460 80h3v1h-3z M466 80h3v8h-3z M483 85h3v5h-3z M488 89h3v21h-3z M494 110h3v31h-3z M511 124h3v9h-3z M533 123h3v3h-3z M544 119h3v7h-3z M550 126h3v10h-3z M556 134h3v6h-3z M584 86h3v18h-3z M589 103h3v17h-3z M595 120h3v11h-3z M600 130h3v9h-3z M612 133h3v24h-3z M617 156h3v7h-3z M628 156h3v3h-3z M634 158h3v9h-3z M651 146h3v4h-3z M662 147h3v2h-3z M668 149h3v3h-3z M690 142h3v7h-3z M701 147h3v5h-3z M724 122h3v1h-3z M735 115h3v11h-3z M752 112h3v7h-3z M757 118h3v2h-3z M763 117h3v2h-3z M768 120h3v8h-3z M774 127h3v7h-3z M785 123h3v5h-3z M791 128h3v10h-3z M808 96h3v2h-3z M819 94h3v4h-3z M830 87h3v3h-3z M852 50h3v16h-3z M858 68h3v6h-3z M880 57h3v12h-3z M892 66h3v7h-3z M897 72h3v1h-3z M903 74h3v9h-3z M908 82h3v13h-3z M936 59h3v14h-3z M942 73h3v3h-3z M948 75h3v20h-3z M964 85h3v5h-3z M981 68h3v4h-3z M987 70h3v14h-3z M992 83h3v1h-3z M998 84h3v6h-3z M1004 88h3v2h-3z M1009 89h3v28h-3z M1015 116h3v10h-3z M1020 124h3v3h-3z M1026 126h3v3h-3z M1043 119h3v4h-3z M1054 108h3v11h-3z M1060 119h3v9h-3z M1065 129h3v9h-3z M1076 135h3v6h-3z M1082 142h3v5h-3z M1099 138h3v4h-3z M1110 137h3v26h-3z M1116 162h3v22h-3z M1121 182h3v99h-3z M1149 246h3v23h-3z M1155 267h3v10h-3z M1160 277h3v13h-3z M1188 224h3v6h-3z M1205 200h3v18h-3z M1222 199h3v8h-3z M1228 206h3v15h-3z M1233 219h3v35h-3z M1239 254h3v1h-3z M1244 255h3v9h-3z" fill="#F23645"/>
<rect x="0" y="445" width="1436" height="1" fill="#E4E4E6"/>
<rect x="0" y="535" width="1436" height="1" fill="#E4E4E6"/>
<path d="M0 493.5 H1373" stroke="#787B86" stroke-width="1" stroke-dasharray="5 6" stroke-dashoffset="3"/>
<polyline points="0,511.3 2.2,506.4 7.8,510.2 24.5,481.2 29,481.9 36.8,478.3 41.2,477.9 45.7,462.3 47.9,461.2 52.4,469 57.9,455.6 62.4,462.3 69.1,476.3 75.8,474.5 81.3,474.5 85.8,470.1 91.4,466.7 101.4,468.5 113.6,474.5 121.4,468.5 124.8,469 137,481.2 141.5,480.1 147.1,483.5 152.6,490.8 158.2,486.1 164.9,487.9 170.5,500.2 174.9,490.1 180.5,481.2 186.1,481.2 197.9,474.5 203.9,483 213.9,485.2 221.7,485.7 230.6,492.8 236.2,495.3 241.8,493.5 248.5,497.5 254,498.4 259.6,504.6 265.2,495.3 276.3,495.3 281.9,489.5 287.5,499.1 293,493.5 298.6,493.9 305.3,493 309.7,498.4 315.6,496.2 321.1,501.3 327.8,497.5 333.4,497.9 337.9,496.2 341.2,493 350.1,481.2 356.8,475.2 365.7,467.2 371.3,467.2 376.9,469 383.5,475.2 389.1,475.7 393.6,477.9 400.2,477.4 405.8,484.1 412.5,488.6 421.4,492.8 427,489.5 432.6,483.5 443.7,483.5 449.3,484.6 456,483.5 461.5,493.5 467.1,499.1 473.8,504.2 478.2,511.8 483.8,510.9 489.4,518.4 495,510.2 505,489 511.7,489.5 517.2,484.1 522.8,477.9 528.4,477.4 534,479 539.5,478.6 544,480.8 550.7,486.4 556.2,486.8 561.8,479.7 567.4,480.6 573,474.5 578.5,471.6 584.1,479 589.7,486.4 596.4,489.5 606.4,486.4 611.9,496.8 617.5,505.7 623.1,503.5 630,506.4 635.6,509.5 641.2,510.6 646.3,505.7 652.3,507.3 656.8,504.6 662.3,504.2 669,502 674.6,506.9 680.2,507.3 690.9,519.1 702.5,509.1 713.6,495.7 718.1,494.6 723.6,488.6 729.6,481.2 735.9,485.2 741.4,482.3 747,473.4 752.6,477.9 758.2,486.4 768.9,495.7 774.9,497.5 780,489 786,493.5 792,499.1 797.2,492.4 802.7,474.1 808.3,475.7 813.9,471.6 824.6,472.3 830.6,476.8 835.7,479 841.7,474.5 847.7,462.3 858.9,471.9 864,463.4 869.6,463.4 875.8,455.6 881.2,460.7 887,457.8 891.9,462.3 897.4,461.2 904.1,461.6 914.2,479 920.4,476.1 925.8,477.9 932.2,474.5 937.8,479.7 943.4,477.4 947.8,479 953.4,484.6 960.1,496.8 965.7,493.5 970.1,492.4 975.7,487.9 982.4,493.5 987.9,507.3 993.5,502.8 999.1,506.2 1003.5,503.5 1010.2,510.2 1015.8,513.1 1021.4,513.5 1026.9,516.9 1032.5,514.7 1038.1,514 1043.6,521.3 1049.2,516.9 1054.8,520.7 1060.4,517.5 1065.9,522.5 1071.5,515.8 1077.1,516.9 1082.6,517.5 1088.2,526.5 1093.8,522 1099.4,518.4 1104.9,516.9 1110.5,520.2 1116.1,525.1 1122.1,469 1127.2,465 1132.8,467.4 1138.4,464.5 1143.9,462.3 1149.5,465.6 1156.2,464.1 1161.8,466.3 1171.8,463 1177.4,458.9 1182.9,457.4 1188.5,458.3 1199.6,456.3 1205.2,458.3 1211.9,458.3 1217.5,456.7 1228.2,454.5 1233.5,475.2 1239.7,476.3 1244.6,473.4" fill="none" stroke="#43A047" stroke-width="1" stroke-linejoin="round"/>
<rect x="0" y="555.5" width="1373" height="50" fill="rgba(126,87,194,0.1)"/>
<defs><linearGradient id="os" x1="0" y1="605" x2="0" y2="630" gradientUnits="userSpaceOnUse"><stop offset="0" stop-color="#F0407A" stop-opacity="0.05"/><stop offset="1" stop-color="#F0407A" stop-opacity="0.45"/></linearGradient><linearGradient id="ob" x1="0" y1="555" x2="0" y2="540" gradientUnits="userSpaceOnUse"><stop offset="0" stop-color="#089981" stop-opacity="0.05"/><stop offset="1" stop-color="#089981" stop-opacity="0.4"/></linearGradient></defs>
<polygon points="488.52,605.2 489.4,607.4 495,617.5 500.5,614.1 504.42,605.2" fill="url(#os)"/>
<polygon points="1111.29,605.2 1116.1,611.9 1122.1,625.3 1127.2,621.9 1132.8,619.2 1138.4,608.1 1143.9,608.1 1149.5,611.9 1155.1,613 1160.6,615.2 1166.2,607.4 1171.8,605.9 1172.14,605.2" fill="url(#os)"/>
<polygon points="34.32,554.8 34.5,554.6 40.1,553.9 41.18,554.8" fill="url(#ob)"/>
<polygon points="193.04,554.8 197.9,548.8 200.74,554.8" fill="url(#ob)"/>
<polygon points="843.28,554.8 847.7,545.7 851.86,554.8" fill="url(#ob)"/>
<path d="M0 555.5 H1373" stroke="#787B86" stroke-width="1" stroke-dasharray="5 6" stroke-dashoffset="3"/>
<path d="M0 580.5 H1373" stroke="#A9ABB3" stroke-width="1" stroke-dasharray="5 6" stroke-dashoffset="3"/>
<path d="M0 605.5 H1373" stroke="#787B86" stroke-width="1" stroke-dasharray="5 6" stroke-dashoffset="3"/>
<polyline points="0,579.6 13.4,578.5 29,574 44.6,568 60.2,563.5 73.5,562.9 93.6,562.9 107,564 120.3,566.2 133.7,567.3 144.8,568 160.4,565.8 173.8,564 189.4,561.7 202.8,560 218.4,560.6 231.8,563.5 251.8,568.4 267.4,574 280.8,579.6 294.1,583.6 307.5,584 323.4,582.9 339,582.2 354.6,578.5 367.9,575.1 376.9,574.2 396.9,574.7 417,576.9 430.3,580.7 443.7,585.1 454.8,588.5 470.4,590.3 486,592.5 501.6,596.3 515,598.5 532.8,599.2 546.2,600.1 557.4,601.4 566.3,599.6 577.4,593.4 590.8,589.6 599.7,588.5 613.1,588.9 633.4,588.9 644.5,590.7 655.7,593.4 666.8,594.1 680.2,592.9 693.5,591.2 706.9,588 720.3,583.6 735.9,579.6 753.7,574.7 767.1,573.3 784.9,572.9 798.3,573.3 813.9,571.8 829.5,570.7 840.6,568.4 851.8,564.4 865.1,561.3 878.5,559.1 889.6,560 900.8,561.7 914.2,565.8 927.5,569.5 938.9,570.7 952.3,574 965.7,576.2 979,576.9 992.4,576.2 1003.5,577.3 1016.9,582.2 1030.3,585.8 1048.1,589.6 1063.7,593.4 1081.5,597 1097.1,597 1110.5,597 1123.9,601.4 1139.5,605.2 1155.1,608.1 1169.6,610.3 1186.3,608.5 1197.4,605.2 1210.8,599.6 1226.4,593.4 1244.6,587.4" fill="none" stroke="#FDD835" stroke-width="1" stroke-linejoin="round"/>
<polyline points="0,563.5 2.2,562.9 7.8,572.4 13.4,569.5 18.9,567.3 24.5,564 30.1,559.5 34.5,554.6 40.1,553.9 46.8,559.5 52.4,563.5 56.8,557.3 62.4,556.2 64.6,558.4 69.1,570.7 74.7,568.4 80.2,572.4 85.8,569.5 91.4,567.3 96.9,569.5 102.5,564.4 108.1,569.5 113.6,568.9 119.2,565.1 124.8,566.2 130.4,565.8 135.9,569.5 141.5,562.9 147.1,561.3 152.6,561.3 159.3,557.3 164.9,565.8 170.5,568.9 176,558.4 181.6,556.2 187.2,555.5 192.8,555.1 197.9,548.8 203.2,560 209,565.1 213.9,564.4 220.6,570.2 226.2,572.9 231.8,578.5 236.7,583.6 241.8,582.2 248.5,584.5 254,580.2 259.6,585.1 265.2,589.6 270.8,583.6 276.3,589.6 281.9,588.5 287.9,591.2 293,583.6 298.6,580 304.2,577.8 310,574.7 315.6,577.8 321.1,582.9 326.7,579.1 332.3,584.5 337.9,580.7 343.4,579.1 349,568.4 355.7,564.6 361.3,568 365.7,561.3 371.3,566.6 376.9,568.9 382.4,575.6 389.1,582.2 394.7,584 400.3,585.8 405.8,590.3 411.4,594.1 417,592.9 421.4,592.5 427.7,587.4 432.6,591.2 438.1,591.4 444.8,594.7 450.4,594.5 456,586.7 461.5,586.9 467.1,592.5 472.7,590.7 478.2,590.3 483.8,593.4 489.4,607.4 495,617.5 500.5,614.1 506.1,601.4 511.7,604.5 517.2,599.6 522.8,597.8 528.4,596.9 534,597.4 539.5,592.5 546.2,597.4 551.8,601.4 556.9,602.3 562.3,586.7 568.1,585.1 573,574 579,567.3 585.2,578.5 590.8,586.9 596.4,590.7 601.9,593.6 607.5,590.7 613.1,599.2 618.6,600.7 624.5,597.4 630,598.5 635.6,601.2 641.2,599.2 645.6,587.8 651.2,588.5 657.9,588.9 663.5,589.4 669,590 674.6,588 680.2,586.7 684.6,582.9 690.2,587.4 696.9,586.3 702,588.9 708,579.6 713.6,575.6 719.2,567.5 724.7,568.4 729.6,564.4 735.9,572.9 741.4,565.5 747,565.3 752.6,570 758.2,571.1 764.4,571.8 769.3,579.6 774.9,583.6 780.4,575.1 786,578.5 792,585.4 797.2,576.2 802.7,562.6 808.3,562.9 813.9,561.3 819.4,562.9 825,559.5 830.6,560.2 836.2,559.7 842.4,556.6 847.7,545.7 853.5,558.4 858.4,562.2 864.7,560.6 870.7,560 875.8,556.8 881.2,565.1 887,564.4 892.3,568.4 898.1,569.5 903,575.1 909.3,584 915.3,584 920.8,579.6 926.4,571.8 932.2,563.5 936.7,571.8 942.3,574 947.8,584.5 953.4,581.8 959,580.7 964.5,581.4 970.1,577.3 975.7,570.7 981.3,571.8 987.9,579.6 993.5,580.2 998,582.2 1003.5,582.9 1009.8,597 1015.8,600.7 1021.4,601.4 1026.9,602.3 1032.5,598.5 1038.1,594.3 1043.6,595.6 1049.2,585.1 1054.8,589.6 1060.4,595.2 1065.9,599.6 1071.5,597.4 1077.1,600.7 1082.6,602.3 1088.2,598.5 1093.8,595.6 1099.4,597 1104.9,593.4 1110.5,604.1 1116.1,611.9 1122.1,625.3 1127.2,621.9 1132.8,619.2 1138.4,608.1 1143.9,608.1 1149.5,611.9 1155.1,613 1160.6,615.2 1166.2,607.4 1171.8,605.9 1177.8,593.4 1183.6,586.3 1188.9,587.8 1194.7,585.1 1200.1,576.9 1205.9,582.2 1211.2,580.7 1217,576.2 1222.4,578.9 1228.2,585.1 1233.5,593.4 1239.7,593.6 1244.6,596.3" fill="none" stroke="#7E57C2" stroke-width="1" stroke-linejoin="round"/>
<rect x="1373" y="0" width="63" height="634" fill="#FFFFFF"/>
<rect x="0" y="445" width="1436" height="1" fill="#E4E4E6"/>
<rect x="0" y="535" width="1436" height="1" fill="#E4E4E6"/>
<g font-family="'Liberation Sans', Arial, sans-serif" font-size="12.2" fill="#131722" stroke="#131722" stroke-width="0.25"><text x="1382" y="18.9" textLength="35.3" lengthAdjust="spacingAndGlyphs">3,2000</text><text x="1382" y="50.9" textLength="35.3" lengthAdjust="spacingAndGlyphs">3,1000</text><text x="1382" y="82.9" textLength="35.3" lengthAdjust="spacingAndGlyphs">3,0000</text><text x="1382" y="114.9" textLength="35.3" lengthAdjust="spacingAndGlyphs">2,9000</text><text x="1382" y="146.9" textLength="35.3" lengthAdjust="spacingAndGlyphs">2,8000</text><text x="1382" y="178.9" textLength="35.3" lengthAdjust="spacingAndGlyphs">2,7000</text><text x="1382" y="210.9" textLength="35.3" lengthAdjust="spacingAndGlyphs">2,6000</text><text x="1382" y="242.9" textLength="35.3" lengthAdjust="spacingAndGlyphs">2,5000</text><text x="1382" y="274.9" textLength="35.3" lengthAdjust="spacingAndGlyphs">2,4000</text><text x="1382" y="306.9" textLength="35.3" lengthAdjust="spacingAndGlyphs">2,3000</text><text x="1382" y="338.9" textLength="35.3" lengthAdjust="spacingAndGlyphs">2,2000</text><text x="1382" y="370.9" textLength="35.3" lengthAdjust="spacingAndGlyphs">2,1000</text><text x="1382" y="402.9" textLength="35.3" lengthAdjust="spacingAndGlyphs">2,0000</text><text x="1382" y="434.9" textLength="35.3" lengthAdjust="spacingAndGlyphs">1,9000</text><text x="1382" y="496.4" textLength="22.5" lengthAdjust="spacingAndGlyphs">0,00</text><text x="1382" y="552.2" textLength="29.5" lengthAdjust="spacingAndGlyphs">75,00</text><text x="1382" y="583.7" textLength="29.5" lengthAdjust="spacingAndGlyphs">50,00</text><text x="1382" y="615.2" textLength="29.5" lengthAdjust="spacingAndGlyphs">25,00</text></g>
<g font-family="'Liberation Sans', Arial, sans-serif" font-size="12.2" stroke="#FFFFFF" stroke-width="0.45"><rect x="1374" y="117" width="49" height="17" rx="1.5" fill="#4CAF50"/><text x="1382" y="129.3" fill="#FFFFFF" textLength="35.6" lengthAdjust="spacingAndGlyphs">2,8576</text><rect x="1374" y="157" width="49" height="17" rx="1.5" fill="#4CAF50"/><text x="1382" y="169.3" fill="#FFFFFF" textLength="35.6" lengthAdjust="spacingAndGlyphs">2,7306</text><rect x="1374" y="183" width="49" height="17" rx="1.5" fill="#4CAF50"/><text x="1382" y="195.3" fill="#FFFFFF" textLength="35.6" lengthAdjust="spacingAndGlyphs">2,6513</text><rect x="1374" y="240" width="49" height="17" rx="1.5" fill="#4CAF50"/><text x="1382" y="252.3" fill="#FFFFFF" textLength="35.6" lengthAdjust="spacingAndGlyphs">2,4730</text><rect x="1374" y="287" width="49" height="17" rx="1.5" fill="#F23645"/><text x="1382" y="299.3" fill="#FFFFFF" textLength="35.6" lengthAdjust="spacingAndGlyphs">2,3512</text><rect x="1374" y="367" width="49" height="17" rx="1.5" fill="#F23645"/><text x="1382" y="379.3" fill="#FFFFFF" textLength="35.6" lengthAdjust="spacingAndGlyphs">2,0768</text><rect x="1374" y="256" width="60" height="31" rx="1.5" fill="#F23645"/><text x="1382" y="268.6" fill="#FFFFFF" textLength="35.6" lengthAdjust="spacingAndGlyphs">2,4214</text><text x="1382" y="281.9" fill="#FFFFFF" fill-opacity="0.78" stroke-opacity="0.6" textLength="47" lengthAdjust="spacingAndGlyphs">02:58:20</text></g>
<g font-family="'Liberation Sans', Arial, sans-serif" font-size="12.6"><rect x="4" y="453" width="78" height="18" fill="#FFFFFF" fill-opacity="0.6"/><rect x="3" y="542" width="153" height="18" fill="#FFFFFF" fill-opacity="0.62"/><text x="6.3" y="466.8" fill="#131722" textLength="23" lengthAdjust="spacingAndGlyphs">CMF</text><text x="33" y="466.8" fill="#5d606b" textLength="13.4" lengthAdjust="spacingAndGlyphs">20</text><text x="55" y="466.8" fill="#43A047" textLength="24.5" lengthAdjust="spacingAndGlyphs">0,16</text><text x="6" y="557.7" fill="#131722" textLength="16.9" lengthAdjust="spacingAndGlyphs">RSI</text><text x="27.1" y="557.7" fill="#5d606b" textLength="45.4" lengthAdjust="spacingAndGlyphs">14 close</text><text x="81.4" y="557.7" fill="#7E57C2" textLength="32" lengthAdjust="spacingAndGlyphs">36,83</text><text x="118.6" y="557.7" fill="#FDD835" textLength="33.4" lengthAdjust="spacingAndGlyphs">44,15</text></g>
<rect x="2" y="605.6" width="39.4" height="18" fill="#FFFFFF"/>
<g fill="#000000"><path d="M9 606.2H21V620.7H15V611.9H9Z"/><path d="M32.4 606.2H38.8L33 620.7H26.1Z"/><circle cx="26.1" cy="608.9" r="2.9"/></g></svg>
</body></html>
